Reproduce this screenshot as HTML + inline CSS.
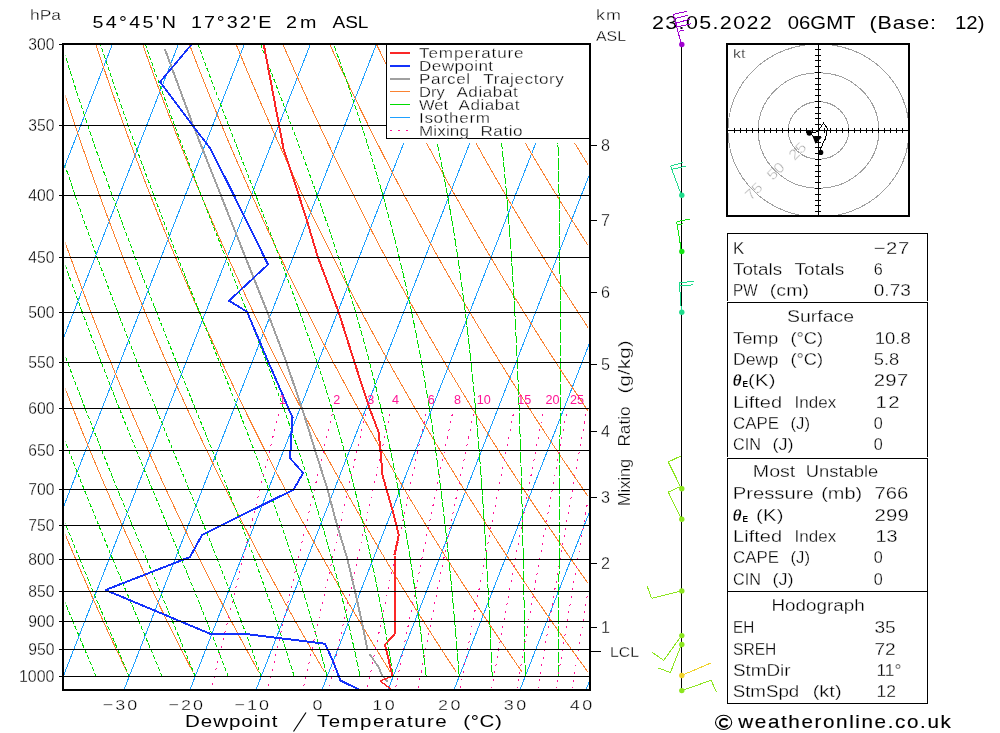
<!DOCTYPE html>
<html><head><meta charset="utf-8"><title>Skew-T</title>
<style>html,body{margin:0;padding:0;background:#fff;}svg{display:block;will-change:transform;}text{font-family:"Liberation Sans",sans-serif;}</style></head>
<body>
<svg width="1000" height="733" viewBox="0 0 1000 733" font-family="'Liberation Sans', sans-serif" fill="#000">
<rect width="1000" height="733" fill="#fff"/>
<defs><clipPath id="cp"><rect x="64" y="45" width="525" height="644"/></clipPath><clipPath id="cq"><rect x="65.6" y="45" width="522.4" height="643"/></clipPath><clipPath id="hc"><rect x="728" y="45" width="180" height="170"/></clipPath></defs>
<g clip-path="url(#cp)" fill="none" stroke-width="1" shape-rendering="crispEdges">
<path d="M-470.87 692L-216.72 42" stroke="#1ea0ff"/>
<path d="M-404.87 692L-150.72 42" stroke="#1ea0ff"/>
<path d="M-338.87 692L-84.72 42" stroke="#1ea0ff"/>
<path d="M-272.87 692L-18.72 42" stroke="#1ea0ff"/>
<path d="M-206.87 692L47.28 42" stroke="#1ea0ff"/>
<path d="M-140.87 692L113.28 42" stroke="#1ea0ff"/>
<path d="M-74.87 692L179.28 42" stroke="#1ea0ff"/>
<path d="M-8.87 692L245.28 42" stroke="#1ea0ff"/>
<path d="M57.13 692L311.28 42" stroke="#1ea0ff"/>
<path d="M123.13 692L377.28 42" stroke="#1ea0ff"/>
<path d="M189.13 692L443.28 42" stroke="#1ea0ff"/>
<path d="M255.13 692L509.28 42" stroke="#1ea0ff"/>
<path d="M321.13 692L575.28 42" stroke="#1ea0ff"/>
<path d="M387.13 692L641.28 42" stroke="#1ea0ff"/>
<path d="M453.13 692L707.28 42" stroke="#1ea0ff"/>
<path d="M519.13 692L773.28 42" stroke="#1ea0ff"/>
<path d="M585.13 692L839.28 42" stroke="#1ea0ff"/>
</g>
<g clip-path="url(#cq)" fill="none" stroke-width="1" shape-rendering="crispEdges">
<path d="M126.92 671.72L124.36 666.4L121.8 661.02L119.22 655.58L116.62 650.09L114.02 644.55L111.4 638.94L108.77 633.27L106.12 627.54L103.46 621.74L100.79 615.89L98.1 609.96L95.4 603.97L92.68 597.91L89.95 591.78L87.2 585.57L84.44 579.29L81.67 572.94L78.88 566.51L76.07 559.99L73.24 553.4L70.4 546.72L67.55 539.96L64.68 533.1L61.79 526.16L58.88 519.12L55.96 511.99L53.01 504.76L50.05 497.43L47.08 490L44.08 482.45L41.07 474.8L38.03 467.04L34.98 459.16L31.9 451.15L28.81 443.03L25.7 434.78L22.56 426.39L19.41 417.87L16.23 409.21L13.03 400.4L9.81 391.44L6.57 382.33L3.31 373.06L0.02 363.61L-3.29 354L-6.63 344.21L-9.99 334.23L-13.37 324.05L-16.78 313.68L-20.21 303.1L-23.67 292.3L-27.16 281.27L-30.67 270.01L-34.21 258.49L-37.78 246.72L-41.37 234.68L-45 222.36L-48.65 209.74L-52.33 196.81L-56.04 183.56L-59.78 169.96L-63.55 156L-67.35 141.66L-71.18 126.91L-75.04 111.74L-78.93 96.12L-82.85 80.01L-86.8 63.4L-90.79 46.25L-94.8 28.51" stroke="#fa8232"/>
<path d="M192.75 671.72L190 666.4L187.24 661.02L184.47 655.58L181.68 650.09L178.88 644.55L176.06 638.94L173.23 633.27L170.38 627.54L167.52 621.74L164.64 615.89L161.75 609.96L158.84 603.97L155.92 597.91L152.97 591.78L150.01 585.57L147.04 579.29L144.05 572.94L141.04 566.51L138.01 559.99L134.96 553.4L131.9 546.72L128.82 539.96L125.72 533.1L122.6 526.16L119.46 519.12L116.3 511.99L113.12 504.76L109.92 497.43L106.7 490L103.46 482.45L100.2 474.8L96.91 467.04L93.61 459.16L90.28 451.15L86.93 443.03L83.55 434.78L80.16 426.39L76.73 417.87L73.29 409.21L69.82 400.4L66.32 391.44L62.8 382.33L59.25 373.06L55.68 363.61L52.07 354L48.44 344.21L44.79 334.23L41.1 324.05L37.38 313.68L33.64 303.1L29.86 292.3L26.06 281.27L22.22 270.01L18.35 258.49L14.44 246.72L10.51 234.68L6.54 222.36L2.53 209.74L-1.51 196.81L-5.58 183.56L-9.7 169.96L-13.84 156L-18.03 141.66L-22.26 126.91L-26.52 111.74L-30.82 96.12L-35.16 80.01L-39.55 63.4L-43.97 46.25L-48.43 28.51" stroke="#fa8232"/>
<path d="M258.58 671.72L255.64 666.4L252.69 661.02L249.72 655.58L246.74 650.09L243.74 644.55L240.73 638.94L237.69 633.27L234.65 627.54L231.58 621.74L228.5 615.89L225.4 609.96L222.28 603.97L219.15 597.91L216 591.78L212.83 585.57L209.64 579.29L206.43 572.94L203.2 566.51L199.95 559.99L196.68 553.4L193.4 546.72L190.09 539.96L186.76 533.1L183.41 526.16L180.04 519.12L176.64 511.99L173.22 504.76L169.79 497.43L166.32 490L162.84 482.45L159.33 474.8L155.8 467.04L152.24 459.16L148.65 451.15L145.05 443.03L141.41 434.78L137.75 426.39L134.06 417.87L130.34 409.21L126.6 400.4L122.83 391.44L119.03 382.33L115.19 373.06L111.33 363.61L107.44 354L103.52 344.21L99.56 334.23L95.57 324.05L91.55 313.68L87.49 303.1L83.4 292.3L79.27 281.27L75.11 270.01L70.9 258.49L66.67 246.72L62.39 234.68L58.07 222.36L53.71 209.74L49.31 196.81L44.87 183.56L40.39 169.96L35.86 156L31.29 141.66L26.67 126.91L22 111.74L17.29 96.12L12.52 80.01L7.71 63.4L2.85 46.25L-2.06 28.51" stroke="#fa8232"/>
<path d="M324.41 671.72L321.28 666.4L318.14 661.02L314.98 655.58L311.8 650.09L308.6 644.55L305.39 638.94L302.16 633.27L298.91 627.54L295.64 621.74L292.36 615.89L289.05 609.96L285.73 603.97L282.38 597.91L279.02 591.78L275.64 585.57L272.23 579.29L268.81 572.94L265.36 566.51L261.89 559.99L258.4 553.4L254.89 546.72L251.36 539.96L247.8 533.1L244.22 526.16L240.61 519.12L236.98 511.99L233.33 504.76L229.65 497.43L225.95 490L222.22 482.45L218.46 474.8L214.68 467.04L210.87 459.16L207.03 451.15L203.16 443.03L199.27 434.78L195.34 426.39L191.39 417.87L187.4 409.21L183.38 400.4L179.33 391.44L175.25 382.33L171.14 373.06L166.99 363.61L162.8 354L158.59 344.21L154.33 334.23L150.04 324.05L145.71 313.68L141.34 303.1L136.93 292.3L132.48 281.27L127.99 270.01L123.46 258.49L118.89 246.72L114.27 234.68L109.6 222.36L104.89 209.74L100.13 196.81L95.33 183.56L90.47 169.96L85.56 156L80.6 141.66L75.59 126.91L70.52 111.74L65.39 96.12L60.21 80.01L54.97 63.4L49.67 46.25L44.3 28.51" stroke="#fa8232"/>
<path d="M390.24 671.72L386.92 666.4L383.58 661.02L380.23 655.58L376.86 650.09L373.46 644.55L370.05 638.94L366.62 633.27L363.17 627.54L359.7 621.74L356.21 615.89L352.7 609.96L349.17 603.97L345.62 597.91L342.04 591.78L338.45 585.57L334.83 579.29L331.19 572.94L327.52 566.51L323.83 559.99L320.12 553.4L316.39 546.72L312.63 539.96L308.84 533.1L305.03 526.16L301.19 519.12L297.33 511.99L293.44 504.76L289.52 497.43L285.57 490L281.6 482.45L277.59 474.8L273.56 467.04L269.5 459.16L265.4 451.15L261.28 443.03L257.12 434.78L252.93 426.39L248.71 417.87L244.46 409.21L240.17 400.4L235.84 391.44L231.48 382.33L227.08 373.06L222.64 363.61L218.17 354L213.66 344.21L209.1 334.23L204.51 324.05L199.87 313.68L195.19 303.1L190.47 292.3L185.7 281.27L180.88 270.01L176.02 258.49L171.11 246.72L166.15 234.68L161.14 222.36L156.07 209.74L150.96 196.81L145.78 183.56L140.55 169.96L135.27 156L129.92 141.66L124.51 126.91L119.04 111.74L113.5 96.12L107.9 80.01L102.23 63.4L96.49 46.25L90.67 28.51" stroke="#fa8232"/>
<path d="M456.06 671.72L452.56 666.4L449.03 661.02L445.48 655.58L441.91 650.09L438.33 644.55L434.72 638.94L431.09 633.27L427.44 627.54L423.77 621.74L420.07 615.89L416.36 609.96L412.62 603.97L408.85 597.91L405.07 591.78L401.26 585.57L397.43 579.29L393.57 572.94L389.68 566.51L385.78 559.99L381.84 553.4L377.88 546.72L373.89 539.96L369.88 533.1L365.84 526.16L361.77 519.12L357.67 511.99L353.54 504.76L349.38 497.43L345.2 490L340.98 482.45L336.73 474.8L332.44 467.04L328.13 459.16L323.78 451.15L319.4 443.03L314.98 434.78L310.53 426.39L306.04 417.87L301.51 409.21L296.95 400.4L292.35 391.44L287.71 382.33L283.02 373.06L278.3 363.61L273.54 354L268.73 344.21L263.88 334.23L258.98 324.05L254.03 313.68L249.04 303.1L244 292.3L238.91 281.27L233.77 270.01L228.58 258.49L223.33 246.72L218.03 234.68L212.67 222.36L207.25 209.74L201.78 196.81L196.24 183.56L190.64 169.96L184.97 156L179.23 141.66L173.43 126.91L167.56 111.74L161.61 96.12L155.59 80.01L149.49 63.4L143.3 46.25L137.04 28.51" stroke="#fa8232"/>
<path d="M521.89 671.72L518.2 666.4L514.48 661.02L510.74 655.58L506.97 650.09L503.19 644.55L499.38 638.94L495.55 633.27L491.7 627.54L487.83 621.74L483.93 615.89L480.01 609.96L476.06 603.97L472.09 597.91L468.09 591.78L464.07 585.57L460.02 579.29L455.95 572.94L451.85 566.51L447.72 559.99L443.56 553.4L439.38 546.72L435.16 539.96L430.92 533.1L426.65 526.16L422.35 519.12L418.01 511.99L413.65 504.76L409.25 497.43L404.82 490L400.36 482.45L395.86 474.8L391.33 467.04L386.76 459.16L382.16 451.15L377.51 443.03L372.84 434.78L368.12 426.39L363.36 417.87L358.57 409.21L353.73 400.4L348.85 391.44L343.93 382.33L338.97 373.06L333.96 363.61L328.9 354L323.8 344.21L318.65 334.23L313.45 324.05L308.2 313.68L302.89 303.1L297.54 292.3L292.13 281.27L286.66 270.01L281.14 258.49L275.55 246.72L269.91 234.68L264.2 222.36L258.43 209.74L252.6 196.81L246.69 183.56L240.72 169.96L234.67 156L228.55 141.66L222.35 126.91L216.08 111.74L209.72 96.12L203.27 80.01L196.74 63.4L190.12 46.25L183.41 28.51" stroke="#fa8232"/>
<path d="M587.72 671.72L583.83 666.4L579.92 661.02L575.99 655.58L572.03 650.09L568.05 644.55L564.05 638.94L560.02 633.27L555.97 627.54L551.89 621.74L547.79 615.89L543.66 609.96L539.5 603.97L535.32 597.91L531.12 591.78L526.88 585.57L522.62 579.29L518.33 572.94L514.01 566.51L509.66 559.99L505.28 553.4L500.87 546.72L496.43 539.96L491.96 533.1L487.46 526.16L482.92 519.12L478.35 511.99L473.75 504.76L469.11 497.43L464.44 490L459.73 482.45L454.99 474.8L450.21 467.04L445.39 459.16L440.53 451.15L435.63 443.03L430.69 434.78L425.71 426.39L420.69 417.87L415.63 409.21L410.52 400.4L405.36 391.44L400.16 382.33L394.91 373.06L389.61 363.61L384.27 354L378.87 344.21L373.42 334.23L367.92 324.05L362.36 313.68L356.74 303.1L351.07 292.3L345.34 281.27L339.55 270.01L333.69 258.49L327.78 246.72L321.79 234.68L315.74 222.36L309.61 209.74L303.42 196.81L297.15 183.56L290.8 169.96L284.38 156L277.87 141.66L271.28 126.91L264.6 111.74L257.83 96.12L250.96 80.01L244 63.4L236.94 46.25L229.78 28.51" stroke="#fa8232"/>
<path d="M653.55 671.72L649.47 666.4L645.37 661.02L641.24 655.58L637.09 650.09L632.91 644.55L628.71 638.94L624.48 633.27L620.23 627.54L615.95 621.74L611.64 615.89L607.31 609.96L602.95 603.97L598.56 597.91L594.14 591.78L589.69 585.57L585.21 579.29L580.71 572.94L576.17 566.51L571.6 559.99L567 553.4L562.37 546.72L557.7 539.96L553 533.1L548.27 526.16L543.5 519.12L538.7 511.99L533.86 504.76L528.98 497.43L524.07 490L519.11 482.45L514.12 474.8L509.09 467.04L504.02 459.16L498.91 451.15L493.75 443.03L488.55 434.78L483.31 426.39L478.02 417.87L472.68 409.21L467.3 400.4L461.87 391.44L456.39 382.33L450.85 373.06L445.27 363.61L439.63 354L433.94 344.21L428.19 334.23L422.39 324.05L416.52 313.68L410.6 303.1L404.61 292.3L398.56 281.27L392.44 270.01L386.25 258.49L380 246.72L373.67 234.68L367.27 222.36L360.79 209.74L354.24 196.81L347.6 183.56L340.88 169.96L334.08 156L327.18 141.66L320.2 126.91L313.11 111.74L305.93 96.12L298.65 80.01L291.26 63.4L283.76 46.25L276.14 28.51" stroke="#fa8232"/>
<path d="M719.38 671.72L715.11 666.4L710.82 661.02L706.5 655.58L702.15 650.09L697.78 644.55L693.38 638.94L688.95 633.27L684.49 627.54L680.01 621.74L675.5 615.89L670.96 609.96L666.39 603.97L661.79 597.91L657.16 591.78L652.5 585.57L647.81 579.29L643.09 572.94L638.33 566.51L633.54 559.99L628.72 553.4L623.86 546.72L618.97 539.96L614.04 533.1L609.08 526.16L604.08 519.12L599.04 511.99L593.96 504.76L588.85 497.43L583.69 490L578.49 482.45L573.25 474.8L567.97 467.04L562.65 459.16L557.28 451.15L551.87 443.03L546.41 434.78L540.9 426.39L535.34 417.87L529.74 409.21L524.08 400.4L518.37 391.44L512.61 382.33L506.8 373.06L500.93 363.61L495 354L489.01 344.21L482.96 334.23L476.85 324.05L470.68 313.68L464.45 303.1L458.14 292.3L451.77 281.27L445.33 270.01L438.81 258.49L432.22 246.72L425.55 234.68L418.8 222.36L411.97 209.74L405.06 196.81L398.06 183.56L390.97 169.96L383.78 156L376.5 141.66L369.12 126.91L361.63 111.74L354.04 96.12L346.34 80.01L338.52 63.4L330.58 46.25L322.51 28.51" stroke="#fa8232"/>
<path d="M785.21 671.72L780.75 666.4L776.26 661.02L771.75 655.58L767.21 650.09L762.64 644.55L758.04 638.94L753.41 633.27L748.76 627.54L744.07 621.74L739.36 615.89L734.61 609.96L729.84 603.97L725.03 597.91L720.19 591.78L715.31 585.57L710.41 579.29L705.47 572.94L700.49 566.51L695.48 559.99L690.44 553.4L685.36 546.72L680.24 539.96L675.08 533.1L669.89 526.16L664.66 519.12L659.38 511.99L654.07 504.76L648.71 497.43L643.31 490L637.87 482.45L632.39 474.8L626.86 467.04L621.28 459.16L615.66 451.15L609.98 443.03L604.26 434.78L598.49 426.39L592.67 417.87L586.79 409.21L580.86 400.4L574.88 391.44L568.84 382.33L562.74 373.06L556.58 363.61L550.36 354L544.08 344.21L537.74 334.23L531.32 324.05L524.85 313.68L518.3 303.1L511.68 292.3L504.98 281.27L498.22 270.01L491.37 258.49L484.44 246.72L477.43 234.68L470.34 222.36L463.16 209.74L455.88 196.81L448.51 183.56L441.05 169.96L433.49 156L425.82 141.66L418.04 126.91L410.15 111.74L402.15 96.12L394.02 80.01L385.77 63.4L377.39 46.25L368.88 28.51" stroke="#fa8232"/>
<path d="M851.04 671.72L846.39 666.4L841.71 661.02L837 655.58L832.27 650.09L827.5 644.55L822.7 638.94L817.88 633.27L813.02 627.54L808.13 621.74L803.21 615.89L798.26 609.96L793.28 603.97L788.26 597.91L783.21 591.78L778.12 585.57L773 579.29L767.85 572.94L762.66 566.51L757.43 559.99L752.16 553.4L746.85 546.72L741.51 539.96L736.12 533.1L730.7 526.16L725.23 519.12L719.72 511.99L714.17 504.76L708.58 497.43L702.94 490L697.25 482.45L691.52 474.8L685.74 467.04L679.91 459.16L674.03 451.15L668.1 443.03L662.12 434.78L656.08 426.39L649.99 417.87L643.85 409.21L637.65 400.4L631.39 391.44L625.07 382.33L618.68 373.06L612.24 363.61L605.73 354L599.15 344.21L592.51 334.23L585.79 324.05L579.01 313.68L572.15 303.1L565.21 292.3L558.2 281.27L551.1 270.01L543.93 258.49L536.66 246.72L529.31 234.68L521.87 222.36L514.34 209.74L506.7 196.81L498.97 183.56L491.13 169.96L483.19 156L475.13 141.66L466.96 126.91L458.67 111.74L450.26 96.12L441.71 80.01L433.03 63.4L424.21 46.25L415.25 28.51" stroke="#fa8232"/>
<path d="M916.87 671.72L912.03 666.4L907.16 661.02L902.26 655.58L897.32 650.09L892.36 644.55L887.37 638.94L882.34 633.27L877.28 627.54L872.19 621.74L867.07 615.89L861.91 609.96L856.72 603.97L851.5 597.91L846.23 591.78L840.94 585.57L835.6 579.29L830.23 572.94L824.82 566.51L819.37 559.99L813.88 553.4L808.35 546.72L802.78 539.96L797.17 533.1L791.51 526.16L785.81 519.12L780.07 511.99L774.28 504.76L768.44 497.43L762.56 490L756.63 482.45L750.65 474.8L744.62 467.04L738.54 459.16L732.41 451.15L726.22 443.03L719.98 434.78L713.68 426.39L707.32 417.87L700.91 409.21L694.43 400.4L687.89 391.44L681.29 382.33L674.63 373.06L667.89 363.61L661.09 354L654.22 344.21L647.28 334.23L640.26 324.05L633.17 313.68L626 303.1L618.75 292.3L611.41 281.27L603.99 270.01L596.48 258.49L588.89 246.72L581.19 234.68L573.4 222.36L565.52 209.74L557.52 196.81L549.42 183.56L541.22 169.96L532.89 156L524.45 141.66L515.88 126.91L507.19 111.74L498.36 96.12L489.4 80.01L480.29 63.4L471.03 46.25L461.62 28.51" stroke="#fa8232"/>
<path d="M982.7 671.72L977.67 666.4L972.6 661.02L967.51 655.58L962.38 650.09L957.22 644.55L952.03 638.94L946.81 633.27L941.55 627.54L936.26 621.74L930.93 615.89L925.57 609.96L920.17 603.97L914.73 597.91L909.26 591.78L903.75 585.57L898.2 579.29L892.61 572.94L886.98 566.51L881.31 559.99L875.6 553.4L869.84 546.72L864.05 539.96L858.21 533.1L852.32 526.16L846.39 519.12L840.41 511.99L834.38 504.76L828.31 497.43L822.19 490L816.01 482.45L809.78 474.8L803.5 467.04L797.17 459.16L790.78 451.15L784.34 443.03L777.83 434.78L771.27 426.39L764.65 417.87L757.96 409.21L751.21 400.4L744.4 391.44L737.52 382.33L730.57 373.06L723.55 363.61L716.46 354L709.29 344.21L702.05 334.23L694.73 324.05L687.33 313.68L679.85 303.1L672.28 292.3L664.63 281.27L656.88 270.01L649.04 258.49L641.11 246.72L633.07 234.68L624.94 222.36L616.7 209.74L608.34 196.81L599.88 183.56L591.3 169.96L582.6 156L573.77 141.66L564.81 126.91L555.71 111.74L546.47 96.12L537.09 80.01L527.55 63.4L517.85 46.25L507.98 28.51" stroke="#fa8232"/>
<path d="M1048.53 671.72L1043.31 666.4L1038.05 661.02L1032.76 655.58L1027.44 650.09L1022.09 644.55L1016.7 638.94L1011.27 633.27L1005.81 627.54L1000.32 621.74L994.79 615.89L989.22 609.96L983.61 603.97L977.97 597.91L972.28 591.78L966.56 585.57L960.79 579.29L954.99 572.94L949.14 566.51L943.25 559.99L937.32 553.4L931.34 546.72L925.32 539.96L919.25 533.1L913.13 526.16L906.97 519.12L900.75 511.99L894.49 504.76L888.18 497.43L881.81 490L875.39 482.45L868.92 474.8L862.39 467.04L855.8 459.16L849.16 451.15L842.45 443.03L835.69 434.78L828.86 426.39L821.97 417.87L815.02 409.21L808 400.4L800.91 391.44L793.75 382.33L786.51 373.06L779.21 363.61L771.82 354L764.36 344.21L756.82 334.23L749.2 324.05L741.49 313.68L733.7 303.1L725.82 292.3L717.84 281.27L709.77 270.01L701.6 258.49L693.33 246.72L684.95 234.68L676.47 222.36L667.88 209.74L659.17 196.81L650.34 183.56L641.38 169.96L632.3 156L623.08 141.66L613.73 126.91L604.23 111.74L594.58 96.12L584.77 80.01L574.81 63.4L564.67 46.25L554.35 28.51" stroke="#fa8232"/>
<path d="M1114.36 671.72L1108.95 666.4L1103.5 661.02L1098.02 655.58L1092.5 650.09L1086.95 644.55L1081.36 638.94L1075.74 633.27L1070.08 627.54L1064.38 621.74L1058.64 615.89L1052.87 609.96L1047.05 603.97L1041.2 597.91L1035.31 591.78L1029.37 585.57L1023.39 579.29L1017.37 572.94L1011.3 566.51L1005.19 559.99L999.04 553.4L992.83 546.72L986.59 539.96L980.29 533.1L973.94 526.16L967.54 519.12L961.1 511.99L954.59 504.76L948.04 497.43L941.43 490L934.77 482.45L928.05 474.8L921.27 467.04L914.43 459.16L907.53 451.15L900.57 443.03L893.55 434.78L886.46 426.39L879.3 417.87L872.07 409.21L864.78 400.4L857.41 391.44L849.97 382.33L842.46 373.06L834.86 363.61L827.19 354L819.43 344.21L811.6 334.23L803.67 324.05L795.66 313.68L787.55 303.1L779.35 292.3L771.06 281.27L762.66 270.01L754.16 258.49L745.55 246.72L736.83 234.68L728 222.36L719.06 209.74L709.99 196.81L700.79 183.56L691.46 169.96L682 156L672.4 141.66L662.65 126.91L652.75 111.74L642.69 96.12L632.46 80.01L622.06 63.4L611.49 46.25L600.72 28.51" stroke="#fa8232"/>
<path d="M1180.19 671.72L1174.58 666.4L1168.94 661.02L1163.27 655.58L1157.56 650.09L1151.81 644.55L1146.02 638.94L1140.2 633.27L1134.34 627.54L1128.44 621.74L1122.5 615.89L1116.52 609.96L1110.5 603.97L1104.43 597.91L1098.33 591.78L1092.18 585.57L1085.99 579.29L1079.75 572.94L1073.46 566.51L1067.13 559.99L1060.76 553.4L1054.33 546.72L1047.85 539.96L1041.33 533.1L1034.75 526.16L1028.12 519.12L1021.44 511.99L1014.7 504.76L1007.91 497.43L1001.06 490L994.15 482.45L987.18 474.8L980.15 467.04L973.06 459.16L965.91 451.15L958.69 443.03L951.4 434.78L944.05 426.39L936.62 417.87L929.13 409.21L921.56 400.4L913.92 391.44L906.2 382.33L898.4 373.06L890.52 363.61L882.56 354L874.51 344.21L866.37 334.23L858.14 324.05L849.82 313.68L841.4 303.1L832.89 292.3L824.27 281.27L815.55 270.01L806.72 258.49L797.77 246.72L788.72 234.68L779.54 222.36L770.24 209.74L760.81 196.81L751.25 183.56L741.55 169.96L731.7 156L721.71 141.66L711.57 126.91L701.27 111.74L690.79 96.12L680.15 80.01L669.32 63.4L658.3 46.25L647.09 28.51" stroke="#fa8232"/>
<path d="M1246.02 671.72L1240.22 666.4L1234.39 661.02L1228.52 655.58L1222.62 650.09L1216.67 644.55L1210.69 638.94L1204.67 633.27L1198.6 627.54L1192.5 621.74L1186.36 615.89L1180.17 609.96L1173.94 603.97L1167.67 597.91L1161.35 591.78L1154.99 585.57L1148.58 579.29L1142.13 572.94L1135.63 566.51L1129.08 559.99L1122.48 553.4L1115.83 546.72L1109.12 539.96L1102.37 533.1L1095.56 526.16L1088.7 519.12L1081.78 511.99L1074.81 504.76L1067.77 497.43L1060.68 490L1053.53 482.45L1046.31 474.8L1039.03 467.04L1031.69 459.16L1024.28 451.15L1016.8 443.03L1009.26 434.78L1001.64 426.39L993.95 417.87L986.19 409.21L978.34 400.4L970.43 391.44L962.42 382.33L954.34 373.06L946.17 363.61L937.92 354L929.58 344.21L921.14 334.23L912.61 324.05L903.98 313.68L895.25 303.1L886.42 292.3L877.48 281.27L868.44 270.01L859.27 258.49L850 246.72L840.6 234.68L831.07 222.36L821.42 209.74L811.63 196.81L801.7 183.56L791.63 169.96L781.41 156L771.03 141.66L760.49 126.91L749.79 111.74L738.9 96.12L727.84 80.01L716.58 63.4L705.12 46.25L693.45 28.51" stroke="#fa8232"/>
<path d="M1311.85 671.72L1305.86 666.4L1299.84 661.02L1293.78 655.58L1287.67 650.09L1281.53 644.55L1275.35 638.94L1269.13 633.27L1262.87 627.54L1256.56 621.74L1250.21 615.89L1243.82 609.96L1237.39 603.97L1230.9 597.91L1224.38 591.78L1217.8 585.57L1211.18 579.29L1204.51 572.94L1197.79 566.51L1191.02 559.99L1184.2 553.4L1177.32 546.72L1170.39 539.96L1163.41 533.1L1156.37 526.16L1149.28 519.12L1142.12 511.99L1134.91 504.76L1127.64 497.43L1120.3 490L1112.91 482.45L1105.44 474.8L1097.92 467.04L1090.32 459.16L1082.66 451.15L1074.92 443.03L1067.12 434.78L1059.23 426.39L1051.28 417.87L1043.24 409.21L1035.13 400.4L1026.93 391.44L1018.65 382.33L1010.29 373.06L1001.83 363.61L993.29 354L984.65 344.21L975.91 334.23L967.08 324.05L958.14 313.68L949.1 303.1L939.96 292.3L930.7 281.27L921.32 270.01L911.83 258.49L902.22 246.72L892.48 234.68L882.6 222.36L872.6 209.74L862.45 196.81L852.16 183.56L841.71 169.96L831.11 156L820.35 141.66L809.41 126.91L798.3 111.74L787.01 96.12L775.52 80.01L763.84 63.4L751.94 46.25L739.82 28.51" stroke="#fa8232"/>
<path d="M1377.68 671.72L1371.5 666.4L1365.28 661.02L1359.03 655.58L1352.73 650.09L1346.4 644.55L1340.02 638.94L1333.6 633.27L1327.13 627.54L1320.62 621.74L1314.07 615.89L1307.47 609.96L1300.83 603.97L1294.14 597.91L1287.4 591.78L1280.61 585.57L1273.78 579.29L1266.89 572.94L1259.95 566.51L1252.96 559.99L1245.91 553.4L1238.82 546.72L1231.66 539.96L1224.45 533.1L1217.18 526.16L1209.85 519.12L1202.47 511.99L1195.02 504.76L1187.5 497.43L1179.93 490L1172.29 482.45L1164.58 474.8L1156.8 467.04L1148.95 459.16L1141.03 451.15L1133.04 443.03L1124.97 434.78L1116.83 426.39L1108.6 417.87L1100.3 409.21L1091.91 400.4L1083.44 391.44L1074.88 382.33L1066.23 373.06L1057.49 363.61L1048.65 354L1039.72 344.21L1030.68 334.23L1021.55 324.05L1012.31 313.68L1002.96 303.1L993.49 292.3L983.91 281.27L974.21 270.01L964.39 258.49L954.44 246.72L944.36 234.68L934.14 222.36L923.78 209.74L913.27 196.81L902.61 183.56L891.8 169.96L880.81 156L869.66 141.66L858.34 126.91L846.82 111.74L835.12 96.12L823.21 80.01L811.09 63.4L798.76 46.25L786.19 28.51" stroke="#fa8232"/>
<path d="M1443.51 671.72L1437.14 666.4L1430.73 661.02L1424.28 655.58L1417.79 650.09L1411.26 644.55L1404.68 638.94L1398.06 633.27L1391.39 627.54L1384.68 621.74L1377.93 615.89L1371.12 609.96L1364.27 603.97L1357.37 597.91L1350.42 591.78L1343.42 585.57L1336.37 579.29L1329.27 572.94L1322.11 566.51L1314.9 559.99L1307.63 553.4L1300.31 546.72L1292.93 539.96L1285.49 533.1L1277.99 526.16L1270.43 519.12L1262.81 511.99L1255.12 504.76L1247.37 497.43L1239.55 490L1231.67 482.45L1223.71 474.8L1215.68 467.04L1207.58 459.16L1199.41 451.15L1191.16 443.03L1182.83 434.78L1174.42 426.39L1165.93 417.87L1157.35 409.21L1148.69 400.4L1139.94 391.44L1131.1 382.33L1122.17 373.06L1113.14 363.61L1104.02 354L1094.79 344.21L1085.46 334.23L1076.02 324.05L1066.47 313.68L1056.81 303.1L1047.03 292.3L1037.13 281.27L1027.1 270.01L1016.95 258.49L1006.66 246.72L996.24 234.68L985.67 222.36L974.96 209.74L964.09 196.81L953.07 183.56L941.88 169.96L930.52 156L918.98 141.66L907.26 126.91L895.34 111.74L883.23 96.12L870.9 80.01L858.35 63.4L845.58 46.25L832.56 28.51" stroke="#fa8232"/>
<path d="M1509.34 671.72L1502.78 666.4L1496.18 661.02L1489.54 655.58L1482.85 650.09L1476.12 644.55L1469.34 638.94L1462.52 633.27L1455.66 627.54L1448.75 621.74L1441.78 615.89L1434.78 609.96L1427.72 603.97L1420.61 597.91L1413.45 591.78L1406.23 585.57L1398.97 579.29L1391.65 572.94L1384.27 566.51L1376.84 559.99L1369.35 553.4L1361.81 546.72L1354.2 539.96L1346.53 533.1L1338.8 526.16L1331.01 519.12L1323.15 511.99L1315.23 504.76L1307.24 497.43L1299.18 490L1291.04 482.45L1282.84 474.8L1274.56 467.04L1266.21 459.16L1257.78 451.15L1249.27 443.03L1240.68 434.78L1232.01 426.39L1223.25 417.87L1214.41 409.21L1205.48 400.4L1196.45 391.44L1187.33 382.33L1178.12 373.06L1168.8 363.61L1159.38 354L1149.86 344.21L1140.23 334.23L1130.49 324.05L1120.63 313.68L1110.66 303.1L1100.56 292.3L1090.34 281.27L1079.99 270.01L1069.51 258.49L1058.88 246.72L1048.12 234.68L1037.2 222.36L1026.14 209.74L1014.91 196.81L1003.52 183.56L991.96 169.96L980.22 156L968.3 141.66L956.18 126.91L943.86 111.74L931.33 96.12L918.59 80.01L905.61 63.4L892.39 46.25L878.93 28.51" stroke="#fa8232"/>
<path d="M1575.17 671.72L1568.42 666.4L1561.63 661.02L1554.79 655.58L1547.91 650.09L1540.98 644.55L1534.01 638.94L1526.99 633.27L1519.92 627.54L1512.81 621.74L1505.64 615.89L1498.43 609.96L1491.16 603.97L1483.84 597.91L1476.47 591.78L1469.05 585.57L1461.57 579.29L1454.03 572.94L1446.44 566.51L1438.78 559.99L1431.07 553.4L1423.3 546.72L1415.47 539.96L1407.57 533.1L1399.61 526.16L1391.59 519.12L1383.49 511.99L1375.33 504.76L1367.1 497.43L1358.8 490L1350.42 482.45L1341.97 474.8L1333.45 467.04L1324.84 459.16L1316.16 451.15L1307.39 443.03L1298.54 434.78L1289.61 426.39L1280.58 417.87L1271.47 409.21L1262.26 400.4L1252.96 391.44L1243.56 382.33L1234.06 373.06L1224.46 363.61L1214.75 354L1204.93 344.21L1195 334.23L1184.96 324.05L1174.79 313.68L1164.51 303.1L1154.1 292.3L1143.55 281.27L1132.88 270.01L1122.06 258.49L1111.11 246.72L1100 234.68L1088.74 222.36L1077.32 209.74L1065.73 196.81L1053.98 183.56L1042.04 169.96L1029.92 156L1017.61 141.66L1005.1 126.91L992.38 111.74L979.44 96.12L966.27 80.01L952.87 63.4L939.21 46.25L925.29 28.51" stroke="#fa8232"/>
<path d="M1641 671.72L1634.06 666.4L1627.07 661.02L1620.04 655.58L1612.97 650.09L1605.84 644.55L1598.67 638.94L1591.45 633.27L1584.19 627.54L1576.87 621.74L1569.5 615.89L1562.08 609.96L1554.6 603.97L1547.08 597.91L1539.49 591.78L1531.86 585.57L1524.16 579.29L1516.41 572.94L1508.6 566.51L1500.73 559.99L1492.79 553.4L1484.8 546.72L1476.74 539.96L1468.61 533.1L1460.42 526.16L1452.16 519.12L1443.84 511.99L1435.44 504.76L1426.97 497.43L1418.42 490L1409.8 482.45L1401.11 474.8L1392.33 467.04L1383.47 459.16L1374.53 451.15L1365.51 443.03L1356.4 434.78L1347.2 426.39L1337.91 417.87L1328.52 409.21L1319.04 400.4L1309.46 391.44L1299.78 382.33L1290 373.06L1280.11 363.61L1270.11 354L1260 344.21L1249.77 334.23L1239.43 324.05L1228.96 313.68L1218.36 303.1L1207.63 292.3L1196.77 281.27L1185.77 270.01L1174.62 258.49L1163.33 246.72L1151.88 234.68L1140.27 222.36L1128.5 209.74L1116.55 196.81L1104.43 183.56L1092.13 169.96L1079.63 156L1066.93 141.66L1054.02 126.91L1040.9 111.74L1027.55 96.12L1013.96 80.01L1000.13 63.4L986.03 46.25L971.66 28.51" stroke="#fa8232"/>
<path d="M96.21 676.47L95.08 673.83L93.95 671.19L92.82 668.53L91.68 665.86L90.53 663.18L89.38 660.48L88.23 657.76L87.07 655.04L85.91 652.3L84.74 649.54L83.57 646.77L82.39 643.99L81.21 641.19L80.03 638.37L78.83 635.54L77.64 632.7L76.44 629.84L75.23 626.96L74.02 624.07L72.81 621.16L71.59 618.24" stroke="#00dc00" stroke-dasharray="4.3 2.0"/>
<path d="M72.81 621.16L71.59 618.24L70.37 615.3L69.14 612.34L67.9 609.37L66.66 606.37L65.42 603.37L64.17 600.34L62.92 597.3L61.66 594.24L60.4 591.16L59.13 588.06L57.86 584.95L56.59 581.81L55.31 578.66L54.02 575.49L52.73 572.3L51.43 569.09L50.13 565.86L48.83 562.61L47.52 559.34L46.2 556.05" stroke="#00dc00" stroke-dasharray="4.3 2.0"/>
<path d="M47.52 559.34L46.2 556.05L44.88 552.73L43.56 549.4L42.23 546.05L40.9 542.67L39.56 539.27L38.21 535.86L36.87 532.41L35.51 528.95L34.15 525.46L32.79 521.95L31.42 518.42L30.05 514.86L28.67 511.27L27.29 507.67L25.9 504.03L24.51 500.38L23.11 496.69L21.71 492.98L20.3 489.25L18.89 485.48" stroke="#00dc00" stroke-dasharray="4.3 2.0"/>
<path d="M20.3 489.25L18.89 485.48L17.47 481.69L16.05 477.88L14.62 474.03L13.19 470.16L11.75 466.25L10.31 462.32L8.86 458.36L7.41 454.37L5.95 450.35L4.49 446.29L3.02 442.21L1.55 438.09L0.07 433.94L-1.41 429.76L-2.9 425.54L-4.4 421.29L-5.9 417.01L-7.4 412.69L-8.91 408.33L-10.43 403.94" stroke="#00dc00" stroke-dasharray="4.3 2.0"/>
<path d="M-8.91 408.33L-10.43 403.94L-11.95 399.51L-13.47 395.04L-15 390.54L-16.54 385.99L-18.08 381.41L-19.63 376.78L-21.18 372.12L-22.74 367.41L-24.31 362.66L-25.88 357.87L-27.45 353.03L-29.03 348.15L-30.62 343.22L-32.21 338.24L-33.81 333.22L-35.42 328.15L-37.03 323.03L-38.64 317.86L-40.26 312.63L-41.89 307.36" stroke="#00dc00" stroke-dasharray="5.1 1.9"/>
<path d="M-40.26 312.63L-41.89 307.36L-43.52 302.03L-45.16 296.64L-46.81 291.2L-48.46 285.71L-50.11 280.15L-51.78 274.54L-53.45 268.87L-55.12 263.13L-56.8 257.33L-58.49 251.46L-60.18 245.53L-61.88 239.53L-63.59 233.47L-65.3 227.33L-67.02 221.11L-68.74 214.83L-70.47 208.47L-72.21 202.02L-73.95 195.5L-75.7 188.9" stroke="#00dc00" stroke-dasharray="6.1 1.9"/>
<path d="M-73.95 195.5L-75.7 188.9L-77.46 182.22L-79.22 175.44L-80.99 168.58L-82.77 161.63L-84.55 154.58L-86.34 147.44L-88.13 140.2L-89.93 132.86L-91.74 125.41L-93.55 117.86L-95.37 110.2L-97.2 102.42L-99.03 94.53L-100.87 86.51L-102.71 78.38L-104.56 70.11L-106.42 61.71L-108.28 53.18L-110.15 44.5L-112.02 35.68L-113.9 26.71" stroke="#00dc00" stroke-dasharray="7.3 1.8"/>
<path d="M129.21 676.47L128.08 673.83L126.95 671.19L125.82 668.53L124.67 665.86L123.53 663.18L122.37 660.48L121.22 657.76L120.05 655.04L118.88 652.3L117.71 649.54L116.53 646.77L115.34 643.99L114.15 641.19L112.95 638.37L111.75 635.54L110.54 632.7L109.33 629.84L108.11 626.96L106.88 624.07L105.65 621.16L104.42 618.24" stroke="#00dc00" stroke-dasharray="4.3 2.0"/>
<path d="M105.65 621.16L104.42 618.24L103.17 615.3L101.93 612.34L100.67 609.37L99.41 606.37L98.15 603.37L96.88 600.34L95.6 597.3L94.32 594.24L93.03 591.16L91.74 588.06L90.44 584.95L89.14 581.81L87.83 578.66L86.51 575.49L85.19 572.3L83.86 569.09L82.53 565.86L81.19 562.61L79.85 559.34L78.5 556.05" stroke="#00dc00" stroke-dasharray="4.3 2.0"/>
<path d="M79.85 559.34L78.5 556.05L77.14 552.73L75.78 549.4L74.42 546.05L73.05 542.67L71.67 539.27L70.28 535.86L68.89 532.41L67.5 528.95L66.1 525.46L64.69 521.95L63.28 518.42L61.86 514.86L60.44 511.27L59.01 507.67L57.58 504.03L56.14 500.38L54.69 496.69L53.24 492.98L51.78 489.25L50.32 485.48" stroke="#00dc00" stroke-dasharray="4.3 2.0"/>
<path d="M51.78 489.25L50.32 485.48L48.85 481.69L47.37 477.88L45.89 474.03L44.41 470.16L42.91 466.25L41.42 462.32L39.91 458.36L38.4 454.37L36.89 450.35L35.36 446.29L33.84 442.21L32.3 438.09L30.76 433.94L29.22 429.76L27.67 425.54L26.11 421.29L24.55 417.01L22.98 412.69L21.4 408.33L19.82 403.94" stroke="#00dc00" stroke-dasharray="4.3 2.0"/>
<path d="M21.4 408.33L19.82 403.94L18.24 399.51L16.64 395.04L15.04 390.54L13.44 385.99L11.83 381.41L10.21 376.78L8.58 372.12L6.95 367.41L5.32 362.66L3.67 357.87L2.03 353.03L0.37 348.15L-1.29 343.22L-2.96 338.24L-4.63 333.22L-6.32 328.15L-8 323.03L-9.7 317.86L-11.4 312.63L-13.11 307.36" stroke="#00dc00" stroke-dasharray="4.7 2.0"/>
<path d="M-11.4 312.63L-13.11 307.36L-14.82 302.03L-16.54 296.64L-18.27 291.2L-20 285.71L-21.74 280.15L-23.49 274.54L-25.24 268.87L-27 263.13L-28.77 257.33L-30.55 251.46L-32.33 245.53L-34.12 239.53L-35.91 233.47L-37.72 227.33L-39.53 221.11L-41.34 214.83L-43.17 208.47L-45 202.02L-46.84 195.5L-48.68 188.9" stroke="#00dc00" stroke-dasharray="5.7 1.9"/>
<path d="M-46.84 195.5L-48.68 188.9L-50.54 182.22L-52.4 175.44L-54.27 168.58L-56.14 161.63L-58.02 154.58L-59.91 147.44L-61.81 140.2L-63.72 132.86L-65.63 125.41L-67.55 117.86L-69.47 110.2L-71.41 102.42L-73.35 94.53L-75.3 86.51L-77.26 78.38L-79.22 70.11L-81.19 61.71L-83.17 53.18L-85.15 44.5L-87.14 35.68L-89.14 26.71" stroke="#00dc00" stroke-dasharray="6.9 1.8"/>
<path d="M162.21 676.47L161.1 673.83L159.99 671.19L158.87 668.53L157.74 665.86L156.61 663.18L155.47 660.48L154.33 657.76L153.18 655.04L152.02 652.3L150.86 649.54L149.68 646.77L148.51 643.99L147.32 641.19L146.13 638.37L144.93 635.54L143.73 632.7L142.52 629.84L141.3 626.96L140.08 624.07L138.84 621.16L137.61 618.24" stroke="#00dc00" stroke-dasharray="4.3 2.0"/>
<path d="M138.84 621.16L137.61 618.24L136.36 615.3L135.11 612.34L133.85 609.37L132.59 606.37L131.32 603.37L130.04 600.34L128.75 597.3L127.46 594.24L126.16 591.16L124.86 588.06L123.55 584.95L122.23 581.81L120.9 578.66L119.57 575.49L118.23 572.3L116.89 569.09L115.53 565.86L114.17 562.61L112.81 559.34L111.44 556.05" stroke="#00dc00" stroke-dasharray="4.3 2.0"/>
<path d="M112.81 559.34L111.44 556.05L110.06 552.73L108.67 549.4L107.28 546.05L105.88 542.67L104.47 539.27L103.06 535.86L101.64 532.41L100.21 528.95L98.78 525.46L97.34 521.95L95.89 518.42L94.44 514.86L92.98 511.27L91.51 507.67L90.04 504.03L88.56 500.38L87.07 496.69L85.58 492.98L84.07 489.25L82.57 485.48" stroke="#00dc00" stroke-dasharray="4.3 2.0"/>
<path d="M84.07 489.25L82.57 485.48L81.05 481.69L79.53 477.88L78 474.03L76.47 470.16L74.93 466.25L73.38 462.32L71.82 458.36L70.26 454.37L68.69 450.35L67.12 446.29L65.53 442.21L63.95 438.09L62.35 433.94L60.75 429.76L59.14 425.54L57.52 421.29L55.9 417.01L54.27 412.69L52.63 408.33L50.98 403.94" stroke="#00dc00" stroke-dasharray="4.3 2.0"/>
<path d="M52.63 408.33L50.98 403.94L49.33 399.51L47.67 395.04L46.01 390.54L44.34 385.99L42.66 381.41L40.97 376.78L39.28 372.12L37.58 367.41L35.87 362.66L34.15 357.87L32.43 353.03L30.7 348.15L28.96 343.22L27.22 338.24L25.47 333.22L23.71 328.15L21.95 323.03L20.17 317.86L18.39 312.63L16.6 307.36" stroke="#00dc00" stroke-dasharray="4.4 2.0"/>
<path d="M18.39 312.63L16.6 307.36L14.81 302.03L13.01 296.64L11.2 291.2L9.38 285.71L7.55 280.15L5.72 274.54L3.88 268.87L2.03 263.13L0.17 257.33L-1.69 251.46L-3.56 245.53L-5.44 239.53L-7.33 233.47L-9.23 227.33L-11.13 221.11L-13.04 214.83L-14.97 208.47L-16.89 202.02L-18.83 195.5L-20.77 188.9" stroke="#00dc00" stroke-dasharray="5.3 1.9"/>
<path d="M-18.83 195.5L-20.77 188.9L-22.73 182.22L-24.69 175.44L-26.66 168.58L-28.64 161.63L-30.62 154.58L-32.62 147.44L-34.62 140.2L-36.63 132.86L-38.65 125.41L-40.68 117.86L-42.72 110.2L-44.77 102.42L-46.82 94.53L-48.89 86.51L-50.96 78.38L-53.04 70.11L-55.13 61.71L-57.22 53.18L-59.33 44.5L-61.45 35.68L-63.57 26.71" stroke="#00dc00" stroke-dasharray="6.6 1.8"/>
<path d="M195.21 676.47L194.14 673.83L193.07 671.19L191.99 668.53L190.9 665.86L189.81 663.18L188.71 660.48L187.6 657.76L186.48 655.04L185.35 652.3L184.22 649.54L183.08 646.77L181.93 643.99L180.78 641.19L179.62 638.37L178.44 635.54L177.27 632.7L176.08 629.84L174.88 626.96L173.68 624.07L172.47 621.16L171.25 618.24" stroke="#00dc00" stroke-dasharray="4.3 2.0"/>
<path d="M172.47 621.16L171.25 618.24L170.03 615.3L168.79 612.34L167.55 609.37L166.3 606.37L165.05 603.37L163.78 600.34L162.51 597.3L161.22 594.24L159.93 591.16L158.64 588.06L157.33 584.95L156.02 581.81L154.7 578.66L153.37 575.49L152.03 572.3L150.68 569.09L149.33 565.86L147.97 562.61L146.59 559.34L145.22 556.05" stroke="#00dc00" stroke-dasharray="4.3 2.0"/>
<path d="M146.59 559.34L145.22 556.05L143.83 552.73L142.44 549.4L141.03 546.05L139.62 542.67L138.2 539.27L136.78 535.86L135.34 532.41L133.9 528.95L132.44 525.46L130.99 521.95L129.52 518.42L128.04 514.86L126.56 511.27L125.07 507.67L123.57 504.03L122.06 500.38L120.54 496.69L119.02 492.98L117.48 489.25L115.94 485.48" stroke="#00dc00" stroke-dasharray="4.3 2.0"/>
<path d="M117.48 489.25L115.94 485.48L114.39 481.69L112.84 477.88L111.27 474.03L109.7 470.16L108.12 466.25L106.53 462.32L104.93 458.36L103.32 454.37L101.71 450.35L100.09 446.29L98.46 442.21L96.82 438.09L95.17 433.94L93.52 429.76L91.86 425.54L90.19 421.29L88.51 417.01L86.82 412.69L85.13 408.33L83.42 403.94" stroke="#00dc00" stroke-dasharray="4.3 2.0"/>
<path d="M85.13 408.33L83.42 403.94L81.71 399.51L79.99 395.04L78.27 390.54L76.53 385.99L74.79 381.41L73.03 376.78L71.27 372.12L69.51 367.41L67.73 362.66L65.94 357.87L64.15 353.03L62.35 348.15L60.54 343.22L58.72 338.24L56.89 333.22L55.06 328.15L53.21 323.03L51.36 317.86L49.5 312.63L47.63 307.36" stroke="#00dc00" stroke-dasharray="4.3 2.0"/>
<path d="M49.5 312.63L47.63 307.36L45.76 302.03L43.87 296.64L41.98 291.2L40.07 285.71L38.16 280.15L36.24 274.54L34.31 268.87L32.37 263.13L30.43 257.33L28.47 251.46L26.51 245.53L24.53 239.53L22.55 233.47L20.56 227.33L18.56 221.11L16.55 214.83L14.53 208.47L12.5 202.02L10.46 195.5L8.41 188.9" stroke="#00dc00" stroke-dasharray="5.0 2.0"/>
<path d="M10.46 195.5L8.41 188.9L6.36 182.22L4.29 175.44L2.22 168.58L0.13 161.63L-1.96 154.58L-4.07 147.44L-6.18 140.2L-8.3 132.86L-10.44 125.41L-12.58 117.86L-14.73 110.2L-16.9 102.42L-19.07 94.53L-21.25 86.51L-23.44 78.38L-25.65 70.11L-27.86 61.71L-30.08 53.18L-32.32 44.5L-34.56 35.68L-36.81 26.71" stroke="#00dc00" stroke-dasharray="6.2 1.9"/>
<path d="M228.21 676.47L227.21 673.83L226.2 671.19L225.18 668.53L224.16 665.86L223.12 663.18L222.08 660.48L221.03 657.76L219.98 655.04L218.91 652.3L217.83 649.54L216.75 646.77L215.66 643.99L214.56 641.19L213.45 638.37L212.33 635.54L211.2 632.7L210.07 629.84L208.92 626.96L207.77 624.07L206.61 621.16L205.43 618.24" stroke="#00dc00" stroke-dasharray="4.3 2.0"/>
<path d="M206.61 621.16L205.43 618.24L204.25 615.3L203.06 612.34L201.86 609.37L200.66 606.37L199.44 603.37L198.21 600.34L196.98 597.3L195.73 594.24L194.48 591.16L193.21 588.06L191.94 584.95L190.65 581.81L189.36 578.66L188.06 575.49L186.75 572.3L185.43 569.09L184.09 565.86L182.75 562.61L181.4 559.34L180.04 556.05" stroke="#00dc00" stroke-dasharray="4.3 2.0"/>
<path d="M181.4 559.34L180.04 556.05L178.67 552.73L177.3 549.4L175.91 546.05L174.51 542.67L173.1 539.27L171.68 535.86L170.25 532.41L168.81 528.95L167.37 525.46L165.91 521.95L164.44 518.42L162.97 514.86L161.48 511.27L159.98 507.67L158.47 504.03L156.96 500.38L155.43 496.69L153.9 492.98L152.35 489.25L150.79 485.48" stroke="#00dc00" stroke-dasharray="4.3 2.0"/>
<path d="M152.35 489.25L150.79 485.48L149.23 481.69L147.65 477.88L146.07 474.03L144.47 470.16L142.87 466.25L141.25 462.32L139.63 458.36L137.99 454.37L136.35 450.35L134.69 446.29L133.03 442.21L131.35 438.09L129.67 433.94L127.98 429.76L126.27 425.54L124.56 421.29L122.84 417.01L121.11 412.69L119.36 408.33L117.61 403.94" stroke="#00dc00" stroke-dasharray="4.3 2.0"/>
<path d="M119.36 408.33L117.61 403.94L115.85 399.51L114.08 395.04L112.29 390.54L110.5 385.99L108.7 381.41L106.89 376.78L105.07 372.12L103.24 367.41L101.4 362.66L99.55 357.87L97.69 353.03L95.82 348.15L93.94 343.22L92.05 338.24L90.15 333.22L88.24 328.15L86.32 323.03L84.4 317.86L82.46 312.63L80.51 307.36" stroke="#00dc00" stroke-dasharray="4.3 2.0"/>
<path d="M82.46 312.63L80.51 307.36L78.55 302.03L76.58 296.64L74.6 291.2L72.61 285.71L70.62 280.15L68.61 274.54L66.59 268.87L64.56 263.13L62.52 257.33L60.47 251.46L58.41 245.53L56.34 239.53L54.26 233.47L52.17 227.33L50.07 221.11L47.96 214.83L45.84 208.47L43.71 202.02L41.57 195.5L39.41 188.9" stroke="#00dc00" stroke-dasharray="4.6 2.0"/>
<path d="M41.57 195.5L39.41 188.9L37.25 182.22L35.07 175.44L32.89 168.58L30.69 161.63L28.48 154.58L26.26 147.44L24.03 140.2L21.79 132.86L19.54 125.41L17.28 117.86L15 110.2L12.72 102.42L10.42 94.53L8.11 86.51L5.79 78.38L3.46 70.11L1.11 61.71L-1.24 53.18L-3.61 44.5L-5.99 35.68L-8.38 26.71" stroke="#00dc00" stroke-dasharray="5.8 1.9"/>
<path d="M261.21 676.47L260.29 673.83L259.37 671.19L258.44 668.53L257.51 665.86L256.56 663.18L255.61 660.48L254.64 657.76L253.67 655.04L252.69 652.3L251.7 649.54L250.7 646.77L249.69 643.99L248.67 641.19L247.64 638.37L246.61 635.54L245.56 632.7L244.5 629.84L243.44 626.96L242.36 624.07L241.28 621.16L240.18 618.24" stroke="#00dc00" stroke-dasharray="4.3 2.0"/>
<path d="M241.28 621.16L240.18 618.24L239.08 615.3L237.96 612.34L236.83 609.37L235.7 606.37L234.55 603.37L233.4 600.34L232.23 597.3L231.05 594.24L229.86 591.16L228.67 588.06L227.46 584.95L226.24 581.81L225.01 578.66L223.76 575.49L222.51 572.3L221.25 569.09L219.97 565.86L218.69 562.61L217.39 559.34L216.08 556.05" stroke="#00dc00" stroke-dasharray="4.3 2.0"/>
<path d="M217.39 559.34L216.08 556.05L214.76 552.73L213.43 549.4L212.09 546.05L210.73 542.67L209.37 539.27L207.99 535.86L206.6 532.41L205.2 528.95L203.79 525.46L202.37 521.95L200.93 518.42L199.48 514.86L198.03 511.27L196.55 507.67L195.07 504.03L193.58 500.38L192.07 496.69L190.55 492.98L189.02 489.25L187.48 485.48" stroke="#00dc00" stroke-dasharray="4.3 2.0"/>
<path d="M189.02 489.25L187.48 485.48L185.92 481.69L184.36 477.88L182.78 474.03L181.19 470.16L179.58 466.25L177.97 462.32L176.34 458.36L174.7 454.37L173.05 450.35L171.39 446.29L169.71 442.21L168.03 438.09L166.33 433.94L164.62 429.76L162.89 425.54L161.16 421.29L159.41 417.01L157.65 412.69L155.88 408.33L154.09 403.94" stroke="#00dc00" stroke-dasharray="4.3 2.0"/>
<path d="M155.88 408.33L154.09 403.94L152.3 399.51L150.49 395.04L148.67 390.54L146.84 385.99L144.99 381.41L143.14 376.78L141.27 372.12L139.39 367.41L137.5 362.66L135.59 357.87L133.68 353.03L131.75 348.15L129.81 343.22L127.86 338.24L125.89 333.22L123.92 328.15L121.93 323.03L119.93 317.86L117.92 312.63L115.9 307.36" stroke="#00dc00" stroke-dasharray="4.3 2.0"/>
<path d="M117.92 312.63L115.9 307.36L113.86 302.03L111.82 296.64L109.76 291.2L107.69 285.71L105.61 280.15L103.51 274.54L101.4 268.87L99.29 263.13L97.16 257.33L95.01 251.46L92.86 245.53L90.69 239.53L88.51 233.47L86.32 227.33L84.12 221.11L81.9 214.83L79.68 208.47L77.44 202.02L75.19 195.5L72.92 188.9" stroke="#00dc00" stroke-dasharray="4.3 2.0"/>
<path d="M75.19 195.5L72.92 188.9L70.64 182.22L68.36 175.44L66.05 168.58L63.74 161.63L61.41 154.58L59.07 147.44L56.72 140.2L54.35 132.86L51.98 125.41L49.58 117.86L47.18 110.2L44.76 102.42L42.33 94.53L39.89 86.51L37.43 78.38L34.96 70.11L32.48 61.71L29.98 53.18L27.47 44.5L24.94 35.68L22.4 26.71" stroke="#00dc00" stroke-dasharray="5.4 1.9"/>
<path d="M294.21 676.47L293.4 673.83L292.59 671.19L291.77 668.53L290.94 665.86L290.1 663.18L289.26 660.48L288.4 657.76L287.54 655.04L286.67 652.3L285.78 649.54L284.89 646.77L283.99 643.99L283.08 641.19L282.17 638.37L281.24 635.54L280.3 632.7L279.35 629.84L278.39 626.96L277.43 624.07L276.45 621.16L275.46 618.24" stroke="#00dc00" stroke-dasharray="5.2 1.9"/>
<path d="M276.45 621.16L275.46 618.24L274.46 615.3L273.46 612.34L272.44 609.37L271.41 606.37L270.37 603.37L269.31 600.34L268.25 597.3L267.18 594.24L266.09 591.16L265 588.06L263.89 584.95L262.77 581.81L261.64 578.66L260.49 575.49L259.34 572.3L258.17 569.09L256.99 565.86L255.8 562.61L254.6 559.34L253.38 556.05" stroke="#00dc00" stroke-dasharray="4.4 2.0"/>
<path d="M254.6 559.34L253.38 556.05L252.15 552.73L250.91 549.4L249.65 546.05L248.39 542.67L247.11 539.27L245.81 535.86L244.51 532.41L243.19 528.95L241.85 525.46L240.5 521.95L239.14 518.42L237.77 514.86L236.38 511.27L234.98 507.67L233.56 504.03L232.13 500.38L230.69 496.69L229.23 492.98L227.76 489.25L226.27 485.48" stroke="#00dc00" stroke-dasharray="4.3 2.0"/>
<path d="M227.76 489.25L226.27 485.48L224.77 481.69L223.25 477.88L221.72 474.03L220.18 470.16L218.62 466.25L217.04 462.32L215.45 458.36L213.85 454.37L212.23 450.35L210.6 446.29L208.95 442.21L207.29 438.09L205.61 433.94L203.92 429.76L202.21 425.54L200.48 421.29L198.75 417.01L196.99 412.69L195.22 408.33L193.44 403.94" stroke="#00dc00" stroke-dasharray="4.3 2.0"/>
<path d="M195.22 408.33L193.44 403.94L191.64 399.51L189.83 395.04L188 390.54L186.16 385.99L184.3 381.41L182.42 376.78L180.54 372.12L178.63 367.41L176.71 362.66L174.78 357.87L172.83 353.03L170.87 348.15L168.89 343.22L166.89 338.24L164.88 333.22L162.86 328.15L160.82 323.03L158.77 317.86L156.7 312.63L154.62 307.36" stroke="#00dc00" stroke-dasharray="4.3 2.0"/>
<path d="M156.7 312.63L154.62 307.36L152.52 302.03L150.41 296.64L148.28 291.2L146.14 285.71L143.98 280.15L141.81 274.54L139.62 268.87L137.42 263.13L135.2 257.33L132.97 251.46L130.73 245.53L128.47 239.53L126.19 233.47L123.9 227.33L121.6 221.11L119.28 214.83L116.95 208.47L114.6 202.02L112.24 195.5L109.86 188.9" stroke="#00dc00" stroke-dasharray="4.3 2.0"/>
<path d="M112.24 195.5L109.86 188.9L107.47 182.22L105.06 175.44L102.64 168.58L100.2 161.63L97.75 154.58L95.28 147.44L92.8 140.2L90.3 132.86L87.79 125.41L85.26 117.86L82.72 110.2L80.16 102.42L77.58 94.53L74.99 86.51L72.39 78.38L69.77 70.11L67.13 61.71L64.48 53.18L61.81 44.5L59.12 35.68L56.42 26.71" stroke="#00dc00" stroke-dasharray="5.0 2.0"/>
<path d="M327.21 676.47L326.52 673.83L325.83 671.19L325.14 668.53L324.43 665.86L323.72 663.18L323 660.48L322.27 657.76L321.53 655.04L320.79 652.3L320.04 649.54L319.28 646.77L318.51 643.99L317.73 641.19L316.94 638.37L316.14 635.54L315.34 632.7L314.52 629.84L313.7 626.96L312.86 624.07L312.02 621.16L311.17 618.24" stroke="#00dc00" stroke-dasharray="6.3 1.9"/>
<path d="M312.02 621.16L311.17 618.24L310.3 615.3L309.43 612.34L308.54 609.37L307.65 606.37L306.75 603.37L305.83 600.34L304.9 597.3L303.97 594.24L303.02 591.16L302.06 588.06L301.09 584.95L300.11 581.81L299.11 578.66L298.1 575.49L297.09 572.3L296.06 569.09L295.01 565.86L293.96 562.61L292.89 559.34L291.81 556.05" stroke="#00dc00" stroke-dasharray="5.5 1.9"/>
<path d="M292.89 559.34L291.81 556.05L290.71 552.73L289.6 549.4L288.48 546.05L287.35 542.67L286.2 539.27L285.04 535.86L283.86 532.41L282.67 528.95L281.47 525.46L280.25 521.95L279.01 518.42L277.76 514.86L276.5 511.27L275.22 507.67L273.92 504.03L272.61 500.38L271.28 496.69L269.94 492.98L268.58 489.25L267.21 485.48" stroke="#00dc00" stroke-dasharray="4.6 2.0"/>
<path d="M268.58 489.25L267.21 485.48L265.82 481.69L264.41 477.88L262.98 474.03L261.54 470.16L260.08 466.25L258.61 462.32L257.12 458.36L255.61 454.37L254.08 450.35L252.53 446.29L250.97 442.21L249.39 438.09L247.79 433.94L246.17 429.76L244.54 425.54L242.89 421.29L241.21 417.01L239.52 412.69L237.81 408.33L236.09 403.94" stroke="#00dc00" stroke-dasharray="4.3 2.0"/>
<path d="M237.81 408.33L236.09 403.94L234.34 399.51L232.58 395.04L230.79 390.54L228.99 385.99L227.17 381.41L225.33 376.78L223.47 372.12L221.59 367.41L219.69 362.66L217.77 357.87L215.83 353.03L213.88 348.15L211.9 343.22L209.91 338.24L207.9 333.22L205.86 328.15L203.81 323.03L201.74 317.86L199.65 312.63L197.54 307.36" stroke="#00dc00" stroke-dasharray="4.3 2.0"/>
<path d="M199.65 312.63L197.54 307.36L195.41 302.03L193.26 296.64L191.1 291.2L188.91 285.71L186.71 280.15L184.48 274.54L182.24 268.87L179.98 263.13L177.7 257.33L175.4 251.46L173.08 245.53L170.74 239.53L168.38 233.47L166.01 227.33L163.62 221.11L161.2 214.83L158.77 208.47L156.33 202.02L153.86 195.5L151.37 188.9" stroke="#00dc00" stroke-dasharray="4.3 2.0"/>
<path d="M153.86 195.5L151.37 188.9L148.87 182.22L146.34 175.44L143.8 168.58L141.24 161.63L138.66 154.58L136.07 147.44L133.45 140.2L130.82 132.86L128.16 125.41L125.49 117.86L122.8 110.2L120.09 102.42L117.37 94.53L114.62 86.51L111.86 78.38L109.07 70.11L106.27 61.71L103.45 53.18L100.61 44.5L97.75 35.68L94.87 26.71" stroke="#00dc00" stroke-dasharray="4.6 2.0"/>
<path d="M360.21 676.47L359.65 673.83L359.09 671.19L358.53 668.53L357.95 665.86L357.37 663.18L356.79 660.48L356.2 657.76L355.6 655.04L354.99 652.3L354.37 649.54L353.75 646.77L353.12 643.99L352.49 641.19L351.84 638.37L351.19 635.54L350.53 632.7L349.87 629.84L349.19 626.96L348.5 624.07L347.81 621.16L347.11 618.24" stroke="#00dc00" stroke-dasharray="7.5 1.8"/>
<path d="M347.81 621.16L347.11 618.24L346.4 615.3L345.68 612.34L344.95 609.37L344.22 606.37L343.47 603.37L342.71 600.34L341.95 597.3L341.17 594.24L340.38 591.16L339.59 588.06L338.78 584.95L337.96 581.81L337.14 578.66L336.3 575.49L335.45 572.3L334.58 569.09L333.71 565.86L332.83 562.61L331.93 559.34L331.02 556.05" stroke="#00dc00" stroke-dasharray="6.8 1.8"/>
<path d="M331.93 559.34L331.02 556.05L330.1 552.73L329.16 549.4L328.22 546.05L327.26 542.67L326.28 539.27L325.3 535.86L324.3 532.41L323.28 528.95L322.26 525.46L321.21 521.95L320.16 518.42L319.08 514.86L318 511.27L316.9 507.67L315.78 504.03L314.64 500.38L313.49 496.69L312.33 492.98L311.15 489.25L309.95 485.48" stroke="#00dc00" stroke-dasharray="5.8 1.9"/>
<path d="M311.15 489.25L309.95 485.48L308.73 481.69L307.5 477.88L306.25 474.03L304.98 470.16L303.69 466.25L302.38 462.32L301.06 458.36L299.72 454.37L298.35 450.35L296.97 446.29L295.57 442.21L294.15 438.09L292.71 433.94L291.25 429.76L289.76 425.54L288.26 421.29L286.74 417.01L285.19 412.69L283.62 408.33L282.03 403.94" stroke="#00dc00" stroke-dasharray="4.7 2.0"/>
<path d="M283.62 408.33L282.03 403.94L280.42 399.51L278.79 395.04L277.13 390.54L275.45 385.99L273.75 381.41L272.03 376.78L270.28 372.12L268.51 367.41L266.71 362.66L264.89 357.87L263.05 353.03L261.18 348.15L259.29 343.22L257.38 338.24L255.44 333.22L253.47 328.15L251.48 323.03L249.47 317.86L247.43 312.63L245.36 307.36" stroke="#00dc00" stroke-dasharray="4.3 2.0"/>
<path d="M247.43 312.63L245.36 307.36L243.27 302.03L241.16 296.64L239.02 291.2L236.85 285.71L234.66 280.15L232.44 274.54L230.2 268.87L227.94 263.13L225.64 257.33L223.33 251.46L220.99 245.53L218.62 239.53L216.23 233.47L213.81 227.33L211.37 221.11L208.9 214.83L206.41 208.47L203.89 202.02L201.35 195.5L198.78 188.9" stroke="#00dc00" stroke-dasharray="4.3 2.0"/>
<path d="M201.35 195.5L198.78 188.9L196.19 182.22L193.57 175.44L190.93 168.58L188.27 161.63L185.58 154.58L182.87 147.44L180.13 140.2L177.37 132.86L174.58 125.41L171.77 117.86L168.94 110.2L166.08 102.42L163.2 94.53L160.29 86.51L157.36 78.38L154.41 70.11L151.43 61.71L148.43 53.18L145.41 44.5L142.36 35.68L139.28 26.71" stroke="#00dc00" stroke-dasharray="4.3 2.0"/>
<path d="M393.21 676.47L392.78 673.83L392.35 671.19L391.91 668.53L391.47 665.86L391.02 663.18L390.57 660.48L390.11 657.76L389.65 655.04L389.18 652.3L388.71 649.54L388.23 646.77L387.74 643.99L387.25 641.19L386.75 638.37L386.25 635.54L385.74 632.7L385.22 629.84L384.7 626.96L384.17 624.07L383.63 621.16L383.09 618.24" stroke="#00dc00" stroke-dasharray="8.8 1.7"/>
<path d="M383.63 621.16L383.09 618.24L382.54 615.3L381.98 612.34L381.41 609.37L380.84 606.37L380.26 603.37L379.67 600.34L379.08 597.3L378.47 594.24L377.86 591.16L377.24 588.06L376.61 584.95L375.97 581.81L375.32 578.66L374.66 575.49L374 572.3L373.32 569.09L372.64 565.86L371.94 562.61L371.24 559.34L370.52 556.05" stroke="#00dc00" stroke-dasharray="8.1 1.7"/>
<path d="M371.24 559.34L370.52 556.05L369.8 552.73L369.06 549.4L368.31 546.05L367.56 542.67L366.79 539.27L366.01 535.86L365.21 532.41L364.41 528.95L363.59 525.46L362.76 521.95L361.92 518.42L361.06 514.86L360.19 511.27L359.31 507.67L358.41 504.03L357.5 500.38L356.57 496.69L355.63 492.98L354.68 489.25L353.71 485.48" stroke="#00dc00" stroke-dasharray="7.2 1.8"/>
<path d="M354.68 489.25L353.71 485.48L352.72 481.69L351.72 477.88L350.7 474.03L349.66 470.16L348.61 466.25L347.54 462.32L346.45 458.36L345.35 454.37L344.22 450.35L343.08 446.29L341.92 442.21L340.74 438.09L339.53 433.94L338.31 429.76L337.07 425.54L335.8 421.29L334.52 417.01L333.21 412.69L331.88 408.33L330.53 403.94" stroke="#00dc00" stroke-dasharray="6.1 1.9"/>
<path d="M331.88 408.33L330.53 403.94L329.15 399.51L327.75 395.04L326.33 390.54L324.88 385.99L323.41 381.41L321.91 376.78L320.39 372.12L318.84 367.41L317.26 362.66L315.66 357.87L314.02 353.03L312.37 348.15L310.68 343.22L308.96 338.24L307.22 333.22L305.45 328.15L303.64 323.03L301.81 317.86L299.94 312.63L298.05 307.36" stroke="#00dc00" stroke-dasharray="4.9 2.0"/>
<path d="M299.94 312.63L298.05 307.36L296.12 302.03L294.17 296.64L292.18 291.2L290.15 285.71L288.1 280.15L286.01 274.54L283.89 268.87L281.74 263.13L279.55 257.33L277.34 251.46L275.08 245.53L272.79 239.53L270.47 233.47L268.12 227.33L265.73 221.11L263.3 214.83L260.84 208.47L258.35 202.02L255.82 195.5L253.26 188.9" stroke="#00dc00" stroke-dasharray="4.3 2.0"/>
<path d="M255.82 195.5L253.26 188.9L250.66 182.22L248.03 175.44L245.36 168.58L242.66 161.63L239.93 154.58L237.16 147.44L234.36 140.2L231.52 132.86L228.65 125.41L225.75 117.86L222.81 110.2L219.84 102.42L216.83 94.53L213.79 86.51L210.72 78.38L207.62 70.11L204.48 61.71L201.31 53.18L198.11 44.5L194.88 35.68L191.61 26.71" stroke="#00dc00" stroke-dasharray="4.3 2.0"/>
<path d="M426.21 676.47L425.9 673.83L425.59 671.19L425.27 668.53L424.95 665.86L424.63 663.18L424.31 660.48L423.98 657.76L423.64 655.04L423.3 652.3L422.96 649.54L422.62 646.77L422.27 643.99L421.91 641.19L421.55 638.37L421.19 635.54L420.82 632.7L420.45 629.84L420.07 626.96L419.69 624.07L419.3 621.16L418.91 618.24" stroke="#00dc00" stroke-dasharray="9.9 1.6"/>
<path d="M419.3 621.16L418.91 618.24L418.51 615.3L418.11 612.34L417.7 609.37L417.28 606.37L416.86 603.37L416.44 600.34L416.01 597.3L415.57 594.24L415.13 591.16L414.68 588.06L414.22 584.95L413.76 581.81L413.29 578.66L412.81 575.49L412.33 572.3L411.84 569.09L411.34 565.86L410.84 562.61L410.33 559.34L409.81 556.05" stroke="#00dc00" stroke-dasharray="9.4 1.6"/>
<path d="M410.33 559.34L409.81 556.05L409.28 552.73L408.74 549.4L408.2 546.05L407.65 542.67L407.08 539.27L406.51 535.86L405.93 532.41L405.35 528.95L404.75 525.46L404.14 521.95L403.52 518.42L402.89 514.86L402.26 511.27L401.61 507.67L400.95 504.03L400.28 500.38L399.59 496.69L398.9 492.98L398.19 489.25L397.48 485.48" stroke="#00dc00" stroke-dasharray="8.8 1.7"/>
<path d="M398.19 489.25L397.48 485.48L396.75 481.69L396 477.88L395.24 474.03L394.47 470.16L393.69 466.25L392.89 462.32L392.08 458.36L391.25 454.37L390.41 450.35L389.55 446.29L388.67 442.21L387.78 438.09L386.87 433.94L385.95 429.76L385 425.54L384.04 421.29L383.06 417.01L382.06 412.69L381.04 408.33L380 403.94" stroke="#00dc00" stroke-dasharray="7.8 1.8"/>
<path d="M381.04 408.33L380 403.94L378.94 399.51L377.86 395.04L376.76 390.54L375.64 385.99L374.49 381.41L373.32 376.78L372.12 372.12L370.9 367.41L369.66 362.66L368.39 357.87L367.09 353.03L365.77 348.15L364.42 343.22L363.04 338.24L361.63 333.22L360.19 328.15L358.72 323.03L357.22 317.86L355.69 312.63L354.13 307.36" stroke="#00dc00" stroke-dasharray="6.5 1.8"/>
<path d="M355.69 312.63L354.13 307.36L352.53 302.03L350.9 296.64L349.23 291.2L347.53 285.71L345.79 280.15L344.02 274.54L342.21 268.87L340.35 263.13L338.46 257.33L336.53 251.46L334.56 245.53L332.55 239.53L330.5 233.47L328.4 227.33L326.26 221.11L324.07 214.83L321.84 208.47L319.57 202.02L317.25 195.5L314.88 188.9" stroke="#00dc00" stroke-dasharray="5.0 1.9"/>
<path d="M317.25 195.5L314.88 188.9L312.47 182.22L310.01 175.44L307.5 168.58L304.94 161.63L302.34 154.58L299.68 147.44L296.98 140.2L294.23 132.86L291.43 125.41L288.58 117.86L285.67 110.2L282.72 102.42L279.72 94.53L276.67 86.51L273.58 78.38L270.43 70.11L267.23 61.71L263.98 53.18L260.69 44.5L257.34 35.68L253.95 26.71" stroke="#00dc00" stroke-dasharray="4.3 2.0"/>
<path d="M459.21 676.47L459 673.83L458.8 671.19L458.59 668.53L458.38 665.86L458.17 663.18L457.96 660.48L457.74 657.76L457.53 655.04L457.3 652.3L457.08 649.54L456.85 646.77L456.62 643.99L456.39 641.19L456.16 638.37L455.92 635.54L455.68 632.7L455.43 629.84L455.19 626.96L454.94 624.07L454.68 621.16L454.43 618.24" stroke="#00dc00" stroke-dasharray="11.0 1.5"/>
<path d="M454.68 621.16L454.43 618.24L454.17 615.3L453.9 612.34L453.64 609.37L453.36 606.37L453.09 603.37L452.81 600.34L452.53 597.3L452.24 594.24L451.95 591.16L451.66 588.06L451.36 584.95L451.06 581.81L450.75 578.66L450.44 575.49L450.12 572.3L449.8 569.09L449.48 565.86L449.14 562.61L448.81 559.34L448.47 556.05" stroke="#00dc00" stroke-dasharray="10.6 1.6"/>
<path d="M448.81 559.34L448.47 556.05L448.12 552.73L447.77 549.4L447.41 546.05L447.05 542.67L446.68 539.27L446.31 535.86L445.93 532.41L445.54 528.95L445.15 525.46L444.75 521.95L444.34 518.42L443.92 514.86L443.5 511.27L443.08 507.67L442.64 504.03L442.2 500.38L441.75 496.69L441.29 492.98L440.82 489.25L440.35 485.48" stroke="#00dc00" stroke-dasharray="10.2 1.6"/>
<path d="M440.82 489.25L440.35 485.48L439.86 481.69L439.37 477.88L438.87 474.03L438.35 470.16L437.83 466.25L437.3 462.32L436.76 458.36L436.21 454.37L435.64 450.35L435.07 446.29L434.49 442.21L433.89 438.09L433.28 433.94L432.66 429.76L432.02 425.54L431.38 421.29L430.71 417.01L430.04 412.69L429.35 408.33L428.65 403.94" stroke="#00dc00" stroke-dasharray="9.5 1.6"/>
<path d="M429.35 408.33L428.65 403.94L427.93 399.51L427.19 395.04L426.44 390.54L425.67 385.99L424.89 381.41L424.09 376.78L423.27 372.12L422.43 367.41L421.57 362.66L420.69 357.87L419.79 353.03L418.87 348.15L417.93 343.22L416.96 338.24L415.97 333.22L414.96 328.15L413.92 323.03L412.86 317.86L411.77 312.63L410.66 307.36" stroke="#00dc00" stroke-dasharray="8.5 1.7"/>
<path d="M411.77 312.63L410.66 307.36L409.51 302.03L408.34 296.64L407.13 291.2L405.9 285.71L404.63 280.15L403.33 274.54L402 268.87L400.63 263.13L399.23 257.33L397.78 251.46L396.3 245.53L394.78 239.53L393.22 233.47L391.62 227.33L389.97 221.11L388.28 214.83L386.54 208.47L384.75 202.02L382.91 195.5L381.03 188.9" stroke="#00dc00" stroke-dasharray="7.0 1.8"/>
<path d="M382.91 195.5L381.03 188.9L379.09 182.22L377.1 175.44L375.05 168.58L372.95 161.63L370.79 154.58L368.57 147.44L366.29 140.2L363.94 132.86L361.54 125.41L359.07 117.86L356.53 110.2L353.93 102.42L351.25 94.53L348.51 86.51L345.7 78.38L342.81 70.11L339.85 61.71L336.82 53.18L333.72 44.5L330.54 35.68L327.28 26.71" stroke="#00dc00" stroke-dasharray="5.0 1.9"/>
<path d="M492.21 676.47L492.09 673.83L491.98 671.19L491.87 668.53L491.75 665.86L491.64 663.18L491.52 660.48L491.4 657.76L491.28 655.04L491.16 652.3L491.03 649.54L490.91 646.77L490.78 643.99L490.65 641.19L490.52 638.37L490.39 635.54L490.26 632.7L490.12 629.84L489.99 626.96L489.85 624.07L489.71 621.16L489.57 618.24" stroke="#00dc00" stroke-dasharray="11.5 1.5"/>
<path d="M489.71 621.16L489.57 618.24L489.43 615.3L489.28 612.34L489.13 609.37L488.98 606.37L488.83 603.37L488.68 600.34L488.52 597.3L488.37 594.24L488.21 591.16L488.04 588.06L487.88 584.95L487.71 581.81L487.54 578.66L487.37 575.49L487.2 572.3L487.02 569.09L486.84 565.86L486.65 562.61L486.47 559.34L486.28 556.05" stroke="#00dc00" stroke-dasharray="11.5 1.5"/>
<path d="M486.47 559.34L486.28 556.05L486.09 552.73L485.89 549.4L485.7 546.05L485.5 542.67L485.29 539.27L485.08 535.86L484.87 532.41L484.66 528.95L484.44 525.46L484.22 521.95L483.99 518.42L483.76 514.86L483.53 511.27L483.29 507.67L483.04 504.03L482.8 500.38L482.54 496.69L482.29 492.98L482.03 489.25L481.76 485.48" stroke="#00dc00" stroke-dasharray="11.4 1.5"/>
<path d="M482.03 489.25L481.76 485.48L481.49 481.69L481.21 477.88L480.93 474.03L480.64 470.16L480.35 466.25L480.05 462.32L479.75 458.36L479.43 454.37L479.12 450.35L478.79 446.29L478.46 442.21L478.12 438.09L477.78 433.94L477.43 429.76L477.06 425.54L476.7 421.29L476.32 417.01L475.93 412.69L475.54 408.33L475.14 403.94" stroke="#00dc00" stroke-dasharray="11.0 1.5"/>
<path d="M475.54 408.33L475.14 403.94L474.73 399.51L474.31 395.04L473.87 390.54L473.43 385.99L472.98 381.41L472.52 376.78L472.04 372.12L471.56 367.41L471.06 362.66L470.55 357.87L470.02 353.03L469.49 348.15L468.94 343.22L468.37 338.24L467.79 333.22L467.19 328.15L466.58 323.03L465.95 317.86L465.31 312.63L464.64 307.36" stroke="#00dc00" stroke-dasharray="10.4 1.6"/>
<path d="M465.31 312.63L464.64 307.36L463.96 302.03L463.26 296.64L462.54 291.2L461.8 285.71L461.03 280.15L460.25 274.54L459.44 268.87L458.61 263.13L457.75 257.33L456.86 251.46L455.95 245.53L455.01 239.53L454.04 233.47L453.04 227.33L452 221.11L450.94 214.83L449.83 208.47L448.7 202.02L447.52 195.5L446.31 188.9" stroke="#00dc00" stroke-dasharray="9.3 1.7"/>
<path d="M447.52 195.5L446.31 188.9L445.05 182.22L443.75 175.44L442.41 168.58L441.02 161.63L439.58 154.58L438.09 147.44L436.54 140.2L434.94 132.86L433.29 125.41L431.57 117.86L429.79 110.2L427.95 102.42L426.04 94.53L424.05 86.51L422 78.38L419.86 70.11L417.65 61.71L415.35 53.18L412.97 44.5L410.5 35.68L407.94 26.71" stroke="#00dc00" stroke-dasharray="7.3 1.8"/>
<path d="M525.21 676.47L525.17 673.83L525.13 671.19L525.09 668.53L525.05 665.86L525.01 663.18L524.97 660.48L524.93 657.76L524.89 655.04L524.85 652.3L524.81 649.54L524.76 646.77L524.72 643.99L524.68 641.19L524.63 638.37L524.59 635.54L524.55 632.7L524.5 629.84L524.45 626.96L524.41 624.07L524.36 621.16L524.31 618.24" stroke="#00dc00" stroke-dasharray="11.5 1.5"/>
<path d="M524.36 621.16L524.31 618.24L524.26 615.3L524.21 612.34L524.16 609.37L524.11 606.37L524.06 603.37L524.01 600.34L523.95 597.3L523.9 594.24L523.84 591.16L523.79 588.06L523.73 584.95L523.67 581.81L523.61 578.66L523.55 575.49L523.49 572.3L523.43 569.09L523.37 565.86L523.3 562.61L523.24 559.34L523.17 556.05" stroke="#00dc00" stroke-dasharray="11.5 1.5"/>
<path d="M523.24 559.34L523.17 556.05L523.1 552.73L523.04 549.4L522.97 546.05L522.89 542.67L522.82 539.27L522.75 535.86L522.67 532.41L522.59 528.95L522.52 525.46L522.44 521.95L522.35 518.42L522.27 514.86L522.18 511.27L522.1 507.67L522.01 504.03L521.92 500.38L521.82 496.69L521.73 492.98L521.63 489.25L521.53 485.48" stroke="#00dc00" stroke-dasharray="11.5 1.5"/>
<path d="M521.63 489.25L521.53 485.48L521.43 481.69L521.33 477.88L521.22 474.03L521.11 470.16L521 466.25L520.89 462.32L520.77 458.36L520.65 454.37L520.53 450.35L520.4 446.29L520.27 442.21L520.14 438.09L520.01 433.94L519.87 429.76L519.73 425.54L519.58 421.29L519.43 417.01L519.28 412.69L519.12 408.33L518.96 403.94" stroke="#00dc00" stroke-dasharray="11.5 1.5"/>
<path d="M519.12 408.33L518.96 403.94L518.79 399.51L518.62 395.04L518.44 390.54L518.26 385.99L518.08 381.41L517.89 376.78L517.69 372.12L517.49 367.41L517.28 362.66L517.07 357.87L516.85 353.03L516.62 348.15L516.39 343.22L516.14 338.24L515.9 333.22L515.64 328.15L515.38 323.03L515.1 317.86L514.82 312.63L514.53 307.36" stroke="#00dc00" stroke-dasharray="11.5 1.5"/>
<path d="M514.82 312.63L514.53 307.36L514.23 302.03L513.92 296.64L513.6 291.2L513.27 285.71L512.93 280.15L512.58 274.54L512.21 268.87L511.83 263.13L511.44 257.33L511.04 251.46L510.62 245.53L510.18 239.53L509.73 233.47L509.26 227.33L508.78 221.11L508.28 214.83L507.75 208.47L507.21 202.02L506.65 195.5L506.06 188.9" stroke="#00dc00" stroke-dasharray="11.2 1.5"/>
<path d="M506.65 195.5L506.06 188.9L505.45 182.22L504.82 175.44L504.16 168.58L503.48 161.63L502.76 154.58L502.02 147.44L501.25 140.2L500.44 132.86L499.59 125.41L498.71 117.86L497.8 110.2L496.84 102.42L495.83 94.53L494.78 86.51L493.69 78.38L492.54 70.11L491.33 61.71L490.07 53.18L488.75 44.5L487.36 35.68L485.91 26.71" stroke="#00dc00" stroke-dasharray="10.0 1.6"/>
<path d="M558.21 676.47L558.22 673.83L558.24 671.19L558.26 668.53L558.28 665.86L558.3 663.18L558.33 660.48L558.35 657.76L558.37 655.04L558.39 652.3L558.41 649.54L558.43 646.77L558.45 643.99L558.48 641.19L558.5 638.37L558.52 635.54L558.54 632.7L558.57 629.84L558.59 626.96L558.61 624.07L558.64 621.16L558.66 618.24" stroke="#00dc00" stroke-dasharray="11.5 1.5"/>
<path d="M558.64 621.16L558.66 618.24L558.68 615.3L558.71 612.34L558.73 609.37L558.76 606.37L558.78 603.37L558.81 600.34L558.83 597.3L558.86 594.24L558.88 591.16L558.91 588.06L558.93 584.95L558.96 581.81L558.99 578.66L559.01 575.49L559.04 572.3L559.07 569.09L559.09 565.86L559.12 562.61L559.15 559.34L559.17 556.05" stroke="#00dc00" stroke-dasharray="11.5 1.5"/>
<path d="M559.15 559.34L559.17 556.05L559.2 552.73L559.23 549.4L559.25 546.05L559.28 542.67L559.31 539.27L559.34 535.86L559.36 532.41L559.39 528.95L559.42 525.46L559.44 521.95L559.47 518.42L559.5 514.86L559.53 511.27L559.55 507.67L559.58 504.03L559.61 500.38L559.63 496.69L559.66 492.98L559.69 489.25L559.71 485.48" stroke="#00dc00" stroke-dasharray="11.5 1.5"/>
<path d="M559.69 489.25L559.71 485.48L559.74 481.69L559.76 477.88L559.79 474.03L559.81 470.16L559.84 466.25L559.86 462.32L559.89 458.36L559.91 454.37L559.94 450.35L559.96 446.29L559.98 442.21L560 438.09L560.02 433.94L560.05 429.76L560.07 425.54L560.08 421.29L560.1 417.01L560.12 412.69L560.14 408.33L560.15 403.94" stroke="#00dc00" stroke-dasharray="11.5 1.5"/>
<path d="M560.14 408.33L560.15 403.94L560.17 399.51L560.18 395.04L560.2 390.54L560.21 385.99L560.22 381.41L560.23 376.78L560.24 372.12L560.25 367.41L560.25 362.66L560.26 357.87L560.26 353.03L560.26 348.15L560.26 343.22L560.25 338.24L560.25 333.22L560.24 328.15L560.23 323.03L560.22 317.86L560.2 312.63L560.19 307.36" stroke="#00dc00" stroke-dasharray="11.5 1.5"/>
<path d="M560.2 312.63L560.19 307.36L560.17 302.03L560.14 296.64L560.12 291.2L560.09 285.71L560.05 280.15L560.01 274.54L559.97 268.87L559.93 263.13L559.88 257.33L559.82 251.46L559.76 245.53L559.7 239.53L559.63 233.47L559.55 227.33L559.47 221.11L559.38 214.83L559.28 208.47L559.18 202.02L559.07 195.5L558.95 188.9" stroke="#00dc00" stroke-dasharray="11.5 1.5"/>
<path d="M559.07 195.5L558.95 188.9L558.82 182.22L558.69 175.44L558.54 168.58L558.38 161.63L558.21 154.58L558.03 147.44L557.84 140.2L557.63 132.86L557.41 125.41L557.18 117.86L556.93 110.2L556.66 102.42L556.38 94.53L556.07 86.51L555.74 78.38L555.4 70.11L555.02 61.71L554.63 53.18L554.2 44.5L553.75 35.68L553.27 26.71" stroke="#00dc00" stroke-dasharray="11.5 1.5"/>
<path d="M280.01 408.33L277.85 417.01L275.73 425.54L273.64 433.94L271.59 442.21L269.58 450.35L267.59 458.36L265.64 466.25L263.72 474.03L261.82 481.69L259.96 489.25L258.12 496.69L256.31 504.03L254.53 511.27L252.78 518.42L251.04 525.46L249.34 532.41L247.65 539.27L245.99 546.05L244.35 552.73L242.74 559.34L241.14 565.86L239.57 572.3L238.02 578.66L236.48 584.95L234.97 591.16L233.47 597.3L231.99 603.37L230.53 609.37L229.09 615.3L227.67 621.16L226.26 626.96L224.87 632.7L223.49 638.37L222.13 643.99L220.79 649.54L219.46 655.04L218.14 660.48L216.84 665.86L215.55 671.19L214.28 676.47L213.02 681.69L211.78 686.86L210.54 691.98" stroke="#ff1496" stroke-width="1" stroke-dasharray="2 5.7" stroke-dashoffset="2"/>
<path d="M333.59 408.33L331.53 417.01L329.5 425.54L327.5 433.94L325.54 442.21L323.61 450.35L321.71 458.36L319.84 466.25L318 474.03L316.19 481.69L314.41 489.25L312.66 496.69L310.93 504.03L309.23 511.27L307.55 518.42L305.9 525.46L304.26 532.41L302.66 539.27L301.07 546.05L299.51 552.73L297.97 559.34L296.44 565.86L294.94 572.3L293.46 578.66L292 584.95L290.55 591.16L289.12 597.3L287.72 603.37L286.32 609.37L284.95 615.3L283.59 621.16L282.25 626.96L280.92 632.7L279.61 638.37L278.31 643.99L277.03 649.54L275.77 655.04L274.51 660.48L273.27 665.86L272.05 671.19L270.84 676.47L269.64 681.69L268.45 686.86L267.28 691.98" stroke="#ff1496" stroke-width="1" stroke-dasharray="2 5.7" stroke-dashoffset="2"/>
<path d="M366.81 408.33L364.8 417.01L362.83 425.54L360.89 433.94L358.98 442.21L357.11 450.35L355.27 458.36L353.45 466.25L351.67 474.03L349.91 481.69L348.18 489.25L346.48 496.69L344.8 504.03L343.15 511.27L341.52 518.42L339.92 525.46L338.34 532.41L336.78 539.27L335.24 546.05L333.73 552.73L332.23 559.34L330.75 565.86L329.3 572.3L327.86 578.66L326.44 584.95L325.04 591.16L323.66 597.3L322.29 603.37L320.95 609.37L319.61 615.3L318.3 621.16L317 626.96L315.71 632.7L314.44 638.37L313.19 643.99L311.95 649.54L310.72 655.04L309.51 660.48L308.31 665.86L307.12 671.19L305.95 676.47L304.79 681.69L303.64 686.86L302.51 691.98" stroke="#ff1496" stroke-width="1" stroke-dasharray="2 5.7" stroke-dashoffset="2"/>
<path d="M391.27 408.33L389.31 417.01L387.38 425.54L385.49 433.94L383.62 442.21L381.79 450.35L379.99 458.36L378.22 466.25L376.47 474.03L374.76 481.69L373.07 489.25L371.4 496.69L369.76 504.03L368.15 511.27L366.56 518.42L364.99 525.46L363.45 532.41L361.93 539.27L360.43 546.05L358.94 552.73L357.48 559.34L356.04 565.86L354.62 572.3L353.22 578.66L351.83 584.95L350.47 591.16L349.12 597.3L347.79 603.37L346.47 609.37L345.17 615.3L343.89 621.16L342.62 626.96L341.37 632.7L340.13 638.37L338.9 643.99L337.69 649.54L336.5 655.04L335.31 660.48L334.14 665.86L332.99 671.19L331.84 676.47L330.71 681.69L329.59 686.86L328.49 691.98" stroke="#ff1496" stroke-width="1" stroke-dasharray="2 5.7" stroke-dashoffset="2"/>
<path d="M427.1 408.33L425.21 417.01L423.34 425.54L421.51 433.94L419.71 442.21L417.94 450.35L416.2 458.36L414.49 466.25L412.81 474.03L411.15 481.69L409.52 489.25L407.92 496.69L406.34 504.03L404.78 511.27L403.25 518.42L401.73 525.46L400.24 532.41L398.78 539.27L397.33 546.05L395.9 552.73L394.49 559.34L393.11 565.86L391.74 572.3L390.38 578.66L389.05 584.95L387.73 591.16L386.43 597.3L385.15 603.37L383.88 609.37L382.63 615.3L381.4 621.16L380.18 626.96L378.97 632.7L377.78 638.37L376.6 643.99L375.43 649.54L374.28 655.04L373.15 660.48L372.02 665.86L370.91 671.19L369.81 676.47L368.72 681.69L367.64 686.86L366.58 691.98" stroke="#ff1496" stroke-width="1" stroke-dasharray="2 5.7" stroke-dashoffset="2"/>
<path d="M453.54 408.33L451.69 417.01L449.88 425.54L448.09 433.94L446.34 442.21L444.62 450.35L442.93 458.36L441.26 466.25L439.62 474.03L438.01 481.69L436.43 489.25L434.86 496.69L433.33 504.03L431.81 511.27L430.32 518.42L428.85 525.46L427.4 532.41L425.98 539.27L424.57 546.05L423.18 552.73L421.81 559.34L420.46 565.86L419.13 572.3L417.82 578.66L416.53 584.95L415.25 591.16L413.98 597.3L412.74 603.37L411.51 609.37L410.29 615.3L409.09 621.16L407.91 626.96L406.74 632.7L405.58 638.37L404.44 643.99L403.31 649.54L402.19 655.04L401.09 660.48L399.99 665.86L398.91 671.19L397.85 676.47L396.79 681.69L395.75 686.86L394.72 691.98" stroke="#ff1496" stroke-width="1" stroke-dasharray="2 5.7" stroke-dashoffset="2"/>
<path d="M474.65 408.33L472.84 417.01L471.07 425.54L469.32 433.94L467.61 442.21L465.93 450.35L464.27 458.36L462.64 466.25L461.04 474.03L459.47 481.69L457.92 489.25L456.39 496.69L454.89 504.03L453.41 511.27L451.95 518.42L450.52 525.46L449.1 532.41L447.71 539.27L446.33 546.05L444.98 552.73L443.64 559.34L442.33 565.86L441.03 572.3L439.75 578.66L438.48 584.95L437.23 591.16L436 597.3L434.79 603.37L433.58 609.37L432.4 615.3L431.23 621.16L430.07 626.96L428.93 632.7L427.8 638.37L426.69 643.99L425.58 649.54L424.49 655.04L423.42 660.48L422.35 665.86L421.3 671.19L420.26 676.47L419.23 681.69L418.22 686.86L417.21 691.98" stroke="#ff1496" stroke-width="1" stroke-dasharray="2 5.7" stroke-dashoffset="2"/>
<path d="M514.44 408.33L512.71 417.01L511.02 425.54L509.35 433.94L507.71 442.21L506.1 450.35L504.52 458.36L502.96 466.25L501.43 474.03L499.93 481.69L498.44 489.25L496.99 496.69L495.55 504.03L494.14 511.27L492.75 518.42L491.38 525.46L490.03 532.41L488.7 539.27L487.39 546.05L486.1 552.73L484.82 559.34L483.57 565.86L482.33 572.3L481.11 578.66L479.9 584.95L478.71 591.16L477.54 597.3L476.38 603.37L475.23 609.37L474.11 615.3L472.99 621.16L471.89 626.96L470.8 632.7L469.73 638.37L468.67 643.99L467.62 649.54L466.58 655.04L465.56 660.48L464.55 665.86L463.55 671.19L462.56 676.47L461.58 681.69L460.62 686.86L459.66 691.98" stroke="#ff1496" stroke-width="1" stroke-dasharray="2 5.7" stroke-dashoffset="2"/>
<path d="M543.86 408.33L542.19 417.01L540.55 425.54L538.94 433.94L537.36 442.21L535.81 450.35L534.28 458.36L532.78 466.25L531.3 474.03L529.85 481.69L528.42 489.25L527.01 496.69L525.63 504.03L524.26 511.27L522.92 518.42L521.6 525.46L520.3 532.41L519.02 539.27L517.76 546.05L516.51 552.73L515.28 559.34L514.07 565.86L512.88 572.3L511.71 578.66L510.55 584.95L509.4 591.16L508.27 597.3L507.16 603.37L506.06 609.37L504.97 615.3L503.9 621.16L502.84 626.96L501.79 632.7L500.76 638.37L499.74 643.99L498.73 649.54L497.74 655.04L496.75 660.48L495.78 665.86L494.82 671.19L493.87 676.47L492.93 681.69L492 686.86L491.08 691.98" stroke="#ff1496" stroke-width="1" stroke-dasharray="2 5.7" stroke-dashoffset="2"/>
<path d="M567.4 408.33L565.78 417.01L564.18 425.54L562.62 433.94L561.08 442.21L559.57 450.35L558.09 458.36L556.63 466.25L555.2 474.03L553.79 481.69L552.4 489.25L551.04 496.69L549.69 504.03L548.37 511.27L547.07 518.42L545.79 525.46L544.53 532.41L543.29 539.27L542.06 546.05L540.86 552.73L539.67 559.34L538.5 565.86L537.34 572.3L536.2 578.66L535.08 584.95L533.97 591.16L532.87 597.3L531.79 603.37L530.73 609.37L529.68 615.3L528.64 621.16L527.62 626.96L526.6 632.7L525.61 638.37L524.62 643.99L523.64 649.54L522.68 655.04L521.73 660.48L520.79 665.86L519.86 671.19L518.94 676.47L518.04 681.69L517.14 686.86L516.25 691.98" stroke="#ff1496" stroke-width="1" stroke-dasharray="2 5.7" stroke-dashoffset="2"/>
<path d="M587.11 408.33L585.53 417.01L583.98 425.54L582.45 433.94L580.95 442.21L579.48 450.35L578.04 458.36L576.62 466.25L575.22 474.03L573.85 481.69L572.5 489.25L571.17 496.69L569.86 504.03L568.57 511.27L567.31 518.42L566.06 525.46L564.83 532.41L563.62 539.27L562.43 546.05L561.26 552.73L560.1 559.34L558.96 565.86L557.84 572.3L556.73 578.66L555.63 584.95L554.56 591.16L553.49 597.3L552.44 603.37L551.41 609.37L550.39 615.3L549.38 621.16L548.38 626.96L547.4 632.7L546.43 638.37L545.47 643.99L544.53 649.54L543.59 655.04L542.67 660.48L541.75 665.86L540.85 671.19L539.96 676.47L539.08 681.69L538.21 686.86L537.35 691.98" stroke="#ff1496" stroke-width="1" stroke-dasharray="2 5.7" stroke-dashoffset="2"/>
<path d="M604.13 408.33L602.58 417.01L601.07 425.54L599.57 433.94L598.11 442.21L596.67 450.35L595.26 458.36L593.87 466.25L592.51 474.03L591.17 481.69L589.85 489.25L588.55 496.69L587.27 504.03L586.02 511.27L584.78 518.42L583.56 525.46L582.36 532.41L581.18 539.27L580.02 546.05L578.88 552.73L577.75 559.34L576.63 565.86L575.54 572.3L574.46 578.66L573.39 584.95L572.34 591.16L571.3 597.3L570.28 603.37L569.27 609.37L568.28 615.3L567.29 621.16L566.32 626.96L565.36 632.7L564.42 638.37L563.49 643.99L562.56 649.54L561.65 655.04L560.75 660.48L559.86 665.86L558.99 671.19L558.12 676.47L557.26 681.69L556.41 686.86L555.57 691.98" stroke="#ff1496" stroke-width="1" stroke-dasharray="2 5.7" stroke-dashoffset="2"/>
<path d="M619.14 408.33L617.63 417.01L616.14 425.54L614.68 433.94L613.24 442.21L611.84 450.35L610.45 458.36L609.09 466.25L607.76 474.03L606.44 481.69L605.15 489.25L603.88 496.69L602.63 504.03L601.4 511.27L600.19 518.42L599 525.46L597.83 532.41L596.68 539.27L595.54 546.05L594.42 552.73L593.32 559.34L592.23 565.86L591.16 572.3L590.1 578.66L589.06 584.95L588.03 591.16L587.02 597.3L586.02 603.37L585.03 609.37L584.06 615.3L583.1 621.16L582.15 626.96L581.22 632.7L580.29 638.37L579.38 643.99L578.48 649.54L577.59 655.04L576.71 660.48L575.85 665.86L574.99 671.19L574.14 676.47L573.3 681.69L572.48 686.86L571.66 691.98" stroke="#ff1496" stroke-width="1" stroke-dasharray="2 5.7" stroke-dashoffset="2"/>
</g>
<g clip-path="url(#cp)" fill="none" stroke-width="1" stroke-linejoin="round" shape-rendering="crispEdges">
<path d="M164.5 49.5L192.5 125M165.5 49.5L193.5 125M192.5 125L220.25 195M193.5 125L221.25 195M220.25 195L245 257.5M221.25 195L246 257.5M245 257.5L267 312.5M246 257.5L268 312.5M267 312.5L285 360M268 312.5L286 360M285 360L301.5 408.25M286 360L302.5 408.25M301.5 408.25L314.5 450M302.5 408.25L315.5 450M314.5 450L327 489.5M315.5 450L328 489.5M327 489.5L336.5 525M328 489.5L337.5 525M336.5 525L347 559.5M337.5 525L348 559.5M347 559.5L354.5 591.25M348 559.5L355.5 591.25M354.5 591.25L361.25 621.5M355.5 591.25L362.25 621.5M361.25 621.5L367 649.5M362.25 621.5L368 649.5" stroke="#a0a0a0" stroke-linecap="square"/>
<path d="M369 654L378 667M370 654L379 667M378 667L381.9 676M379 667L382.9 676M381.9 676L386.8 681.3M382.9 676L387.8 681.3" stroke="#a0a0a0" stroke-linecap="square"/>
<path d="M191 44.5L159.5 82M192 44.5L160.5 82M159.5 82L210.25 149.25M160.5 82L211.25 149.25M210.25 149.25L230.75 190M211.25 149.25L231.75 190M230.75 190L267.5 264.5M231.75 190L268.5 264.5M268 264L229 300.25M268 265L229 301.25M229 300.25L247 311.25M229 301.25L247 312.25M246.5 311.75L267 360M247.5 311.75L268 360M267 360L292 417.5M268 360L293 417.5M292 417.5L289.5 458M293 417.5L290.5 458M289.5 458L302.5 473M290.5 458L303.5 473M302.5 473L293.25 489.5M303.5 473L294.25 489.5M293.75 489L202 534.5M293.75 490L202 535.5M201.5 535L189.5 557M202.5 535L190.5 557M190 556.5L105.5 589.5M190 557.5L105.5 590.5M105.5 589.5L210 633.25M105.5 590.5L210 634.25M210 633.25L250 634M210 634.25L250 635M250 634L325 643.25M250 635L325 644.25M324.5 643.75L332 660M325.5 643.75L333 660M332 660L340 680.5M333 660L341 680.5M340.5 680L358.75 689M340.5 681L358.75 690" stroke="#1432fa" stroke-linecap="square"/>
<path d="M263.25 44.5L278.5 125M264.25 44.5L279.5 125M278.5 125L283.25 150M279.5 125L284.25 150M283.25 150L298.25 195M284.25 150L299.25 195M298.25 195L307 222.5M299.25 195L308 222.5M307 222.5L317.5 257.5M308 222.5L318.5 257.5M317.5 257.5L338.25 312.5M318.5 257.5L339.25 312.5M338.25 312.5L353.25 360M339.25 312.5L354.25 360M353.25 360L369 408.25M354.25 360L370 408.25M369 408.25L378.25 432.5M370 408.25L379.25 432.5M378.25 432.5L380.75 460M379.25 432.5L381.75 460M380.75 460L382 475M381.75 460L383 475M382 475L392 510M383 475L393 510M392 510L398.25 535M393 510L399.25 535M398.25 535L394 555M399.25 535L395 555M394 555L395 612.5M395 555L396 612.5M395 612.5L394.5 633.75M396 612.5L395.5 633.75M394.5 633.75L384.5 644.5M395.5 633.75L385.5 644.5M384.5 644.5L391.8 675.5M385.5 644.5L392.8 675.5" stroke="#fa2828" stroke-linecap="square"/>
<path d="M392.3 676L380.3 681L390.5 688.7" stroke="#fa2828" stroke-width="1.4"/>
</g>
<path d="M59 125.5H589M59 195.5H589M59 257.5H589M59 312.5H589M59 362.5H589M59 408.5H589M59 450.5H589M59 489.5H589M59 525.5H589M59 559.5H589M59 591.5H589M59 621.5H589M59 649.5H589M59 676.5H589M59 44.5H62" stroke="#000" stroke-width="1" fill="none" shape-rendering="crispEdges"/>
<rect x="386" y="45" width="204" height="98" fill="#fff"/>
<path d="M386.5 45V138.5H590" fill="none" stroke="#000" stroke-width="1" shape-rendering="crispEdges"/>
<path d="M390 53H410" stroke="#fa2828" stroke-width="2" shape-rendering="crispEdges"/>
<text transform="translate(419 58.3) scale(1.180 1)" font-size="14.5" textLength="88.64" lengthAdjust="spacing" stroke="#fff" stroke-width="0.3">Temperature</text>
<path d="M390 66H410" stroke="#1432fa" stroke-width="2" shape-rendering="crispEdges"/>
<text transform="translate(419 71.3) scale(1.180 1)" font-size="14.5" textLength="62.8" lengthAdjust="spacing" stroke="#fff" stroke-width="0.3">Dewpoint</text>
<path d="M390 79H410" stroke="#a0a0a0" stroke-width="2" shape-rendering="crispEdges"/>
<text transform="translate(419 84.3) scale(1.180 1)" font-size="14.5" textLength="43.22" lengthAdjust="spacing" stroke="#fff" stroke-width="0.3">Parcel</text>
<text transform="translate(483.3 84.3) scale(1.180 1)" font-size="14.5" textLength="68.31" lengthAdjust="spacing" stroke="#fff" stroke-width="0.3">Trajectory</text>
<path d="M390 91.5H410" stroke="#fa8232" stroke-width="1" shape-rendering="crispEdges"/>
<text transform="translate(419 97.3) scale(1.144 1)" font-size="14.5" stroke="#fff" stroke-width="0.3">Dry</text>
<text transform="translate(456.4 97.3) scale(1.180 1)" font-size="14.5" textLength="51.95" lengthAdjust="spacing" stroke="#fff" stroke-width="0.3">Adiabat</text>
<path d="M390 104.5H410" stroke="#00dc00" stroke-width="1" shape-rendering="crispEdges"/>
<text transform="translate(419 110.3) scale(1.137 1)" font-size="14.5" stroke="#fff" stroke-width="0.3">Wet</text>
<text transform="translate(458.5 110.3) scale(1.180 1)" font-size="14.5" textLength="51.61" lengthAdjust="spacing" stroke="#fff" stroke-width="0.3">Adiabat</text>
<path d="M390 117.5H410" stroke="#1ea0ff" stroke-width="1" shape-rendering="crispEdges"/>
<text transform="translate(419 123.3) scale(1.180 1)" font-size="14.5" textLength="60.17" lengthAdjust="spacing" stroke="#fff" stroke-width="0.3">Isotherm</text>
<path d="M390 130.5H410" stroke="#ff1496" stroke-width="1" stroke-dasharray="2 6" shape-rendering="crispEdges"/>
<text transform="translate(419 136.3) scale(1.180 1)" font-size="14.5" textLength="42.37" lengthAdjust="spacing" stroke="#fff" stroke-width="0.3">Mixing</text>
<text transform="translate(480.5 136.3) scale(1.180 1)" font-size="14.5" textLength="35.59" lengthAdjust="spacing" stroke="#fff" stroke-width="0.3">Ratio</text>
<rect x="63" y="44" width="527" height="646" fill="none" stroke="#000" stroke-width="2" shape-rendering="crispEdges"/>
<text transform="translate(28.2 50.1) scale(0.994 1)" font-size="15.8" stroke="#fff" stroke-width="0.3">300</text>
<text transform="translate(28.2 131.1) scale(0.994 1)" font-size="15.8" stroke="#fff" stroke-width="0.3">350</text>
<text transform="translate(28.2 201.1) scale(0.994 1)" font-size="15.8" stroke="#fff" stroke-width="0.3">400</text>
<text transform="translate(28.2 263.1) scale(0.994 1)" font-size="15.8" stroke="#fff" stroke-width="0.3">450</text>
<text transform="translate(28.2 318.1) scale(0.994 1)" font-size="15.8" stroke="#fff" stroke-width="0.3">500</text>
<text transform="translate(28.2 368.1) scale(0.994 1)" font-size="15.8" stroke="#fff" stroke-width="0.3">550</text>
<text transform="translate(28.2 414.1) scale(0.994 1)" font-size="15.8" stroke="#fff" stroke-width="0.3">600</text>
<text transform="translate(28.2 456.1) scale(0.994 1)" font-size="15.8" stroke="#fff" stroke-width="0.3">650</text>
<text transform="translate(28.2 495.1) scale(0.994 1)" font-size="15.8" stroke="#fff" stroke-width="0.3">700</text>
<text transform="translate(28.2 531.1) scale(0.994 1)" font-size="15.8" stroke="#fff" stroke-width="0.3">750</text>
<text transform="translate(28.2 565.1) scale(0.994 1)" font-size="15.8" stroke="#fff" stroke-width="0.3">800</text>
<text transform="translate(28.2 597.1) scale(0.994 1)" font-size="15.8" stroke="#fff" stroke-width="0.3">850</text>
<text transform="translate(28.2 627.1) scale(0.994 1)" font-size="15.8" stroke="#fff" stroke-width="0.3">900</text>
<text transform="translate(28.2 655.1) scale(0.994 1)" font-size="15.8" stroke="#fff" stroke-width="0.3">950</text>
<text transform="translate(18.9 682.1) scale(1.010 1)" font-size="15.8" stroke="#fff" stroke-width="0.3">1000</text>
<text transform="translate(92.5 28.3) scale(1.180 1)" font-size="16.7" textLength="70.76" lengthAdjust="spacing">54°45'N</text>
<text transform="translate(191 28.3) scale(1.180 1)" font-size="16.7" textLength="68.22" lengthAdjust="spacing">17°32'E</text>
<text transform="translate(286 28.3) scale(1.180 1)" font-size="16.7" textLength="25.85" lengthAdjust="spacing">2m</text>
<text transform="translate(332.5 28.3) scale(1.140 1)" font-size="16.7">ASL</text>
<text transform="translate(652 29.4) scale(1.180 1)" font-size="18.2" textLength="101.44" lengthAdjust="spacing">23.05.2022</text>
<text transform="translate(787.8 29.4) scale(1.116 1)" font-size="18.2">06GMT</text>
<text transform="translate(869.5 29.4) scale(1.180 1)" font-size="18.2" textLength="56.36" lengthAdjust="spacing">(Base:</text>
<text transform="translate(955 29.4) scale(1.121 1)" font-size="18.2">12)</text>
<text transform="translate(30 20) scale(1.146 1)" font-size="15.2" stroke="#fff" stroke-width="0.3">hPa</text>
<text transform="translate(596 20) scale(1.180 1)" font-size="15.2" textLength="21.19" lengthAdjust="spacing" stroke="#fff" stroke-width="0.3">km</text>
<text transform="translate(596 40.6) scale(1.072 1)" font-size="14.8" stroke="#fff" stroke-width="0.3">ASL</text>
<text transform="translate(102.75 709.8) scale(1.180 1)" font-size="15.2" textLength="29.24" lengthAdjust="spacing" stroke="#fff" stroke-width="0.3">−30</text>
<text transform="translate(168.6 709.8) scale(1.180 1)" font-size="15.2" textLength="29.24" lengthAdjust="spacing" stroke="#fff" stroke-width="0.3">−20</text>
<text transform="translate(234.45 709.8) scale(1.180 1)" font-size="15.2" textLength="29.24" lengthAdjust="spacing" stroke="#fff" stroke-width="0.3">−10</text>
<text transform="translate(312.4 709.8) scale(1.180 1)" font-size="15.2" stroke="#fff" stroke-width="0.3">0</text>
<text transform="translate(372.15 709.8) scale(1.180 1)" font-size="15.2" textLength="19.07" lengthAdjust="spacing" stroke="#fff" stroke-width="0.3">10</text>
<text transform="translate(438 709.8) scale(1.180 1)" font-size="15.2" textLength="19.07" lengthAdjust="spacing" stroke="#fff" stroke-width="0.3">20</text>
<text transform="translate(503.85 709.8) scale(1.180 1)" font-size="15.2" textLength="19.07" lengthAdjust="spacing" stroke="#fff" stroke-width="0.3">30</text>
<text transform="translate(569.7 709.8) scale(1.180 1)" font-size="15.2" textLength="19.07" lengthAdjust="spacing" stroke="#fff" stroke-width="0.3">40</text>
<text transform="translate(185 727) scale(1.180 1)" font-size="17.4" textLength="78.31" lengthAdjust="spacing">Dewpoint</text>
<text transform="translate(317 727) scale(1.180 1)" font-size="17.4" textLength="109.92" lengthAdjust="spacing">Temperature</text>
<text transform="translate(463.2 727) scale(1.180 1)" font-size="17.4" textLength="32.71" lengthAdjust="spacing">(°C)</text>
<path d="M293.5 731.5L306 712.5" stroke="#000" stroke-width="1.2" fill="none"/>
<g fill="#ff1496" font-size="12.6" text-anchor="middle">
<text x="282.5" y="404">1</text>
<text x="336.75" y="404">2</text>
<text x="370.75" y="404">3</text>
<text x="395.5" y="404">4</text>
<text x="431.25" y="404">6</text>
<text x="457.5" y="404">8</text>
<text x="483.75" y="404">10</text>
<text x="524.25" y="404">15</text>
<text x="552.5" y="404">20</text>
<text x="577" y="404">25</text>
</g>
<path d="M591 145.5H597M591 220.5H597M591 292.5H597M591 364.5H597M591 431.5H597M591 497.5H597M591 563.5H597M591 627.5H597M591 651.5H601" stroke="#000" stroke-width="1" shape-rendering="crispEdges"/>
<text transform="translate(601 151) scale(1.011 1)" font-size="16" stroke="#fff" stroke-width="0.3">8</text>
<text transform="translate(601 226) scale(1.011 1)" font-size="16" stroke="#fff" stroke-width="0.3">7</text>
<text transform="translate(601 298) scale(1.011 1)" font-size="16" stroke="#fff" stroke-width="0.3">6</text>
<text transform="translate(601 370) scale(1.011 1)" font-size="16" stroke="#fff" stroke-width="0.3">5</text>
<text transform="translate(601 437) scale(1.011 1)" font-size="16" stroke="#fff" stroke-width="0.3">4</text>
<text transform="translate(601 503) scale(1.011 1)" font-size="16" stroke="#fff" stroke-width="0.3">3</text>
<text transform="translate(601 569) scale(1.011 1)" font-size="16" stroke="#fff" stroke-width="0.3">2</text>
<text transform="translate(601 633) scale(1.011 1)" font-size="16" stroke="#fff" stroke-width="0.3">1</text>
<text transform="translate(610 656.8) scale(1.020 1)" font-size="15.5" stroke="#fff" stroke-width="0.3">LCL</text>
<text transform="translate(629.8 506) rotate(-90) scale(0.939 1)" font-size="17.4" stroke="#fff" stroke-width="0.3">Mixing</text>
<text transform="translate(629.8 446.6) rotate(-90) scale(0.990 1)" font-size="17.4" stroke="#fff" stroke-width="0.3">Ratio</text>
<text transform="translate(629.8 393.5) rotate(-90) scale(1.180 1)" font-size="17.4" textLength="45" lengthAdjust="spacing" stroke="#fff" stroke-width="0.3">(g/kg)</text>
<path d="M681.5 44.5V690.6" stroke="#000" stroke-width="1" shape-rendering="crispEdges"/>
<path d="M681.5 44.5L673.25 14.4M673.25 14.4L687.05 11.3M674.9 18.6L687.9 15.3M675.8 23.2L690.2 19.1M677 27L690.8 23.8M678.6 31.4L684.5 29.9" stroke="#a000d0" stroke-width="1" fill="none" shape-rendering="crispEdges"/>
<circle cx="681.8" cy="44.5" r="2.7" fill="#a000d0"/>
<path d="M681.5 195.2L670.6 166.2M670.6 166.2L683.2 162.25M672 169.3L685.8 166.2" stroke="#1edc8c" stroke-width="1" fill="none" shape-rendering="crispEdges"/>
<circle cx="681.8" cy="195.2" r="2.7" fill="#1edc8c"/>
<path d="M681.5 251.5L676.6 221.7M676.6 221.7L689.7 219M678 225L683.2 223.8" stroke="#14e614" stroke-width="1" fill="none" shape-rendering="crispEdges"/>
<circle cx="681.8" cy="251.5" r="2.7" fill="#14e614"/>
<path d="M681.5 312.25L679.3 282.7M679.3 282.7L693.7 281.4M679.3 286L693.1 284.8" stroke="#1edc8c" stroke-width="1" fill="none" shape-rendering="crispEdges"/>
<circle cx="681.8" cy="312.25" r="2.7" fill="#1edc8c"/>
<path d="M681.5 488.7L668.3 462M668.3 462L680.8 456" stroke="#8ce61e" stroke-width="1" fill="none" shape-rendering="crispEdges"/>
<circle cx="681.8" cy="488.7" r="2.7" fill="#8ce61e"/>
<path d="M681.5 519.3L668.3 492.1M668.3 492.1L679.6 487" stroke="#8ce61e" stroke-width="1" fill="none" shape-rendering="crispEdges"/>
<circle cx="681.8" cy="519.3" r="2.7" fill="#8ce61e"/>
<path d="M681.5 590.9L651.6 598.4M651.6 598.4L647.2 586.3" stroke="#8ce61e" stroke-width="1" fill="none" shape-rendering="crispEdges"/>
<circle cx="681.8" cy="590.9" r="2.7" fill="#8ce61e"/>
<path d="M681.5 635.6L663.7 660.4M663.7 660.4L652.2 652.4" stroke="#8ce61e" stroke-width="1" fill="none" shape-rendering="crispEdges"/>
<circle cx="681.8" cy="635.6" r="2.7" fill="#8ce61e"/>
<path d="M681.5 644.5L670.4 672.5M670.4 672.5L658.4 668" stroke="#8ce61e" stroke-width="1" fill="none" shape-rendering="crispEdges"/>
<circle cx="681.8" cy="644.5" r="2.7" fill="#8ce61e"/>
<path d="M681.5 675.5L710.7 663.1" stroke="#f0d228" stroke-width="1" fill="none" shape-rendering="crispEdges"/>
<circle cx="681.8" cy="675.5" r="2.7" fill="#f0d228"/>
<path d="M681.5 690.6L711.2 680.3M711.2 680.3L716.5 692.3" stroke="#8ce61e" stroke-width="1" fill="none" shape-rendering="crispEdges"/>
<circle cx="681.8" cy="690.6" r="2.7" fill="#8ce61e"/>
<g clip-path="url(#hc)" fill="none" stroke="#a0a0a0" stroke-width="1" shape-rendering="crispEdges">
<ellipse cx="818.5" cy="130.5" rx="30.2" ry="28.85"/>
<ellipse cx="818.5" cy="130.5" rx="60.4" ry="57.7"/>
<ellipse cx="818.5" cy="130.5" rx="90.6" ry="86.55"/>
</g>
<text transform="translate(797.4 151) rotate(-45) scale(1.12 1)" font-size="14.5" text-anchor="middle" fill="#a0a0a0" stroke="#fff" stroke-width="0.45" y="5">25</text>
<text transform="translate(775.7 171) rotate(-45) scale(1.12 1)" font-size="14.5" text-anchor="middle" fill="#a0a0a0" stroke="#fff" stroke-width="0.45" y="5">50</text>
<text transform="translate(753.7 191.2) rotate(-45) scale(1.12 1)" font-size="14.5" text-anchor="middle" fill="#a0a0a0" stroke="#fff" stroke-width="0.45" y="5">75</text>
<path d="M728 130.5H908M818.5 45V215M824.5 128v5M812.5 128v5M830.5 128v5M806.5 128v5M836.5 128v5M800.5 128v5M842.5 128v5M794.5 128v5M848.5 128v5M788.5 128v5M854.5 128v5M782.5 128v5M860.5 128v5M776.5 128v5M866.5 128v5M770.5 128v5M872.5 128v5M764.5 128v5M878.5 128v5M758.5 128v5M884.5 128v5M752.5 128v5M890.5 128v5M746.5 128v5M896.5 128v5M740.5 128v5M902.5 128v5M734.5 128v5M815 136.5h6M815 124.5h6M815 142.5h6M815 118.5h6M815 147.5h6M815 113.5h6M815 153.5h6M815 107.5h6M815 159.5h6M815 101.5h6M815 165.5h6M815 95.5h6M815 171.5h6M815 89.5h6M815 176.5h6M815 84.5h6M815 182.5h6M815 78.5h6M815 188.5h6M815 72.5h6M815 194.5h6M815 66.5h6M815 200.5h6M815 60.5h6M815 205.5h6M815 55.5h6M815 211.5h6M815 49.5h6" stroke="#000" stroke-width="1" fill="none" shape-rendering="crispEdges"/>
<path d="M809.3 133L814.7 132.5L818.3 130.8L823.5 123.1L827.5 128.6L826.5 134.4L825.4 139L823.7 141.2L822.1 146.1L821 148.3L820.6 152.4" stroke="#000" stroke-width="1" fill="none" shape-rendering="crispEdges"/>
<path d="M811.5 134.5L814.5 137.5" stroke="#000" stroke-width="1" shape-rendering="crispEdges"/>
<circle cx="809.3" cy="133" r="2.7"/>
<circle cx="820.7" cy="152.4" r="2.6"/>
<path d="M812.3 135.8L821.8 137.2L815.5 143.8Z"/>
<rect x="727" y="44" width="182" height="172" fill="none" stroke="#000" stroke-width="2" shape-rendering="crispEdges"/>
<text transform="translate(733 57.6) scale(1.180 1)" font-size="13.5" textLength="10.59" lengthAdjust="spacing" stroke="#fff" stroke-width="0.3">kt</text>
<path d="M727 233.5H928M727 302.5H928M727 458.5H928M727 591.5H928M727 703.5H928M727.5 233V301M727.5 302V457M727.5 458V704M927.5 233V301M927.5 302V457M927.5 458V704" fill="none" stroke="#000" stroke-width="1" shape-rendering="crispEdges"/>
<text transform="translate(733 253.9) scale(0.985 1)" font-size="17.2" stroke="#fff" stroke-width="0.3">K</text>
<text transform="translate(873.8 253.9) scale(1.180 1)" font-size="17.2" textLength="30" lengthAdjust="spacing" stroke="#fff" stroke-width="0.3">−27</text>
<text transform="translate(733 274.5) scale(1.095 1)" font-size="17.2" stroke="#fff" stroke-width="0.3">Totals</text>
<text transform="translate(794.6 274.5) scale(1.108 1)" font-size="17.2" stroke="#fff" stroke-width="0.3">Totals</text>
<text transform="translate(873.8 274.5) scale(0.941 1)" font-size="17.2" stroke="#fff" stroke-width="0.3">6</text>
<text transform="translate(733 295.8) scale(0.888 1)" font-size="17.2" stroke="#fff" stroke-width="0.3">PW</text>
<text transform="translate(769.8 295.8) scale(1.140 1)" font-size="17.2" stroke="#fff" stroke-width="0.3">(cm)</text>
<text transform="translate(873.8 295.8) scale(1.105 1)" font-size="17.2" stroke="#fff" stroke-width="0.3">0.73</text>
<text transform="translate(733 343.9) scale(1.077 1)" font-size="17.2" stroke="#fff" stroke-width="0.3">Temp</text>
<text transform="translate(790.4 343.9) scale(1.063 1)" font-size="17.2" stroke="#fff" stroke-width="0.3">(°C)</text>
<text transform="translate(874.8 343.9) scale(1.075 1)" font-size="17.2" stroke="#fff" stroke-width="0.3">10.8</text>
<text transform="translate(733 364.5) scale(1.030 1)" font-size="17.2" stroke="#fff" stroke-width="0.3">Dewp</text>
<text transform="translate(790.4 364.5) scale(1.063 1)" font-size="17.2" stroke="#fff" stroke-width="0.3">(°C)</text>
<text transform="translate(873.8 364.5) scale(1.066 1)" font-size="17.2" stroke="#fff" stroke-width="0.3">5.8</text>
<text x="732.3" y="385.5" font-size="17" font-style="italic" font-weight="bold" stroke="#fff" stroke-width="0.4">θ</text>
<text x="742.6" y="386.7" font-size="8.3" font-weight="bold">E</text>
<text transform="translate(748 385.5) scale(1.180 1)" font-size="17.2" textLength="23.31" lengthAdjust="spacing" stroke="#fff" stroke-width="0.3">(K)</text>
<text transform="translate(873.8 385.5) scale(1.180 1)" font-size="17.2" textLength="29.15" lengthAdjust="spacing" stroke="#fff" stroke-width="0.3">297</text>
<text transform="translate(733 407.8) scale(1.169 1)" font-size="17.2" stroke="#fff" stroke-width="0.3">Lifted</text>
<text transform="translate(794.6 407.8) scale(0.989 1)" font-size="17.2" stroke="#fff" stroke-width="0.3">Index</text>
<text transform="translate(875.5 407.8) scale(1.180 1)" font-size="17.2" textLength="20.34" lengthAdjust="spacing" stroke="#fff" stroke-width="0.3">12</text>
<text transform="translate(733 429) scale(0.980 1)" font-size="17.2" stroke="#fff" stroke-width="0.3">CAPE</text>
<text transform="translate(790.4 429) scale(0.977 1)" font-size="17.2" stroke="#fff" stroke-width="0.3">(J)</text>
<text transform="translate(873.8 429) scale(0.941 1)" font-size="17.2" stroke="#fff" stroke-width="0.3">0</text>
<text transform="translate(733 449.7) scale(0.942 1)" font-size="17.2" stroke="#fff" stroke-width="0.3">CIN</text>
<text transform="translate(772.4 449.7) scale(1.057 1)" font-size="17.2" stroke="#fff" stroke-width="0.3">(J)</text>
<text transform="translate(873.8 449.7) scale(0.941 1)" font-size="17.2" stroke="#fff" stroke-width="0.3">0</text>
<text transform="translate(732.7 498.5) scale(1.178 1)" font-size="17.2" stroke="#fff" stroke-width="0.3">Pressure</text>
<text transform="translate(821.2 498.5) scale(1.157 1)" font-size="17.2" stroke="#fff" stroke-width="0.3">(mb)</text>
<text transform="translate(874.4 498.5) scale(1.180 1)" font-size="17.2" stroke="#fff" stroke-width="0.3">766</text>
<text x="732.3" y="520.9" font-size="17" font-style="italic" font-weight="bold" stroke="#fff" stroke-width="0.4">θ</text>
<text x="742.6" y="522.1" font-size="8.3" font-weight="bold">E</text>
<text transform="translate(756 520.9) scale(1.180 1)" font-size="17.2" textLength="23.31" lengthAdjust="spacing" stroke="#fff" stroke-width="0.3">(K)</text>
<text transform="translate(874.4 520.9) scale(1.180 1)" font-size="17.2" textLength="29.15" lengthAdjust="spacing" stroke="#fff" stroke-width="0.3">299</text>
<text transform="translate(733 541.7) scale(1.169 1)" font-size="17.2" stroke="#fff" stroke-width="0.3">Lifted</text>
<text transform="translate(794.6 541.7) scale(0.989 1)" font-size="17.2" stroke="#fff" stroke-width="0.3">Index</text>
<text transform="translate(875.5 541.7) scale(1.150 1)" font-size="17.2" stroke="#fff" stroke-width="0.3">13</text>
<text transform="translate(733 563.3) scale(0.980 1)" font-size="17.2" stroke="#fff" stroke-width="0.3">CAPE</text>
<text transform="translate(790.4 563.3) scale(0.977 1)" font-size="17.2" stroke="#fff" stroke-width="0.3">(J)</text>
<text transform="translate(873.8 563.3) scale(0.941 1)" font-size="17.2" stroke="#fff" stroke-width="0.3">0</text>
<text transform="translate(733 584.6) scale(0.942 1)" font-size="17.2" stroke="#fff" stroke-width="0.3">CIN</text>
<text transform="translate(772.4 584.6) scale(1.057 1)" font-size="17.2" stroke="#fff" stroke-width="0.3">(J)</text>
<text transform="translate(873.8 584.6) scale(0.941 1)" font-size="17.2" stroke="#fff" stroke-width="0.3">0</text>
<text transform="translate(733 632.8) scale(0.891 1)" font-size="17.2" stroke="#fff" stroke-width="0.3">EH</text>
<text transform="translate(874.4 632.8) scale(1.113 1)" font-size="17.2" stroke="#fff" stroke-width="0.3">35</text>
<text transform="translate(733 654.5) scale(0.906 1)" font-size="17.2" stroke="#fff" stroke-width="0.3">SREH</text>
<text transform="translate(874.4 654.5) scale(1.113 1)" font-size="17.2" stroke="#fff" stroke-width="0.3">72</text>
<text transform="translate(733 676.1) scale(1.096 1)" font-size="17.2" stroke="#fff" stroke-width="0.3">StmDir</text>
<text transform="translate(876.4 676.1) scale(1.011 1)" font-size="17.2" stroke="#fff" stroke-width="0.3">11°</text>
<text transform="translate(732.7 697.3) scale(1.087 1)" font-size="17.2" stroke="#fff" stroke-width="0.3">StmSpd</text>
<text transform="translate(812.7 697.3) scale(1.164 1)" font-size="17.2" stroke="#fff" stroke-width="0.3">(kt)</text>
<text transform="translate(876.4 697.3) scale(1.019 1)" font-size="17.2" stroke="#fff" stroke-width="0.3">12</text>
<text transform="translate(787.1 322) scale(1.130 1)" font-size="17.2" stroke="#fff" stroke-width="0.3">Surface</text>
<text transform="translate(752.8 477.2) scale(1.140 1)" font-size="17.2" stroke="#fff" stroke-width="0.3">Most</text>
<text transform="translate(805.7 477.2) scale(1.069 1)" font-size="17.2" stroke="#fff" stroke-width="0.3">Unstable</text>
<text transform="translate(771.4 611.2) scale(1.097 1)" font-size="17.2" stroke="#fff" stroke-width="0.3">Hodograph</text>
<ellipse cx="723.6" cy="722.4" rx="8.1" ry="7.1" fill="none" stroke="#000" stroke-width="1.1"/>
<path d="M727.6 720.6A4.3 3.9 0 1 0 727.6 725.2" fill="none" stroke="#000" stroke-width="1.9"/>
<text transform="translate(738.3 727.9) scale(1.180 1)" font-size="17.5" textLength="180.08" lengthAdjust="spacing" stroke="#000" stroke-width="0.15">weatheronline.co.uk</text>
</svg>
</body></html>
